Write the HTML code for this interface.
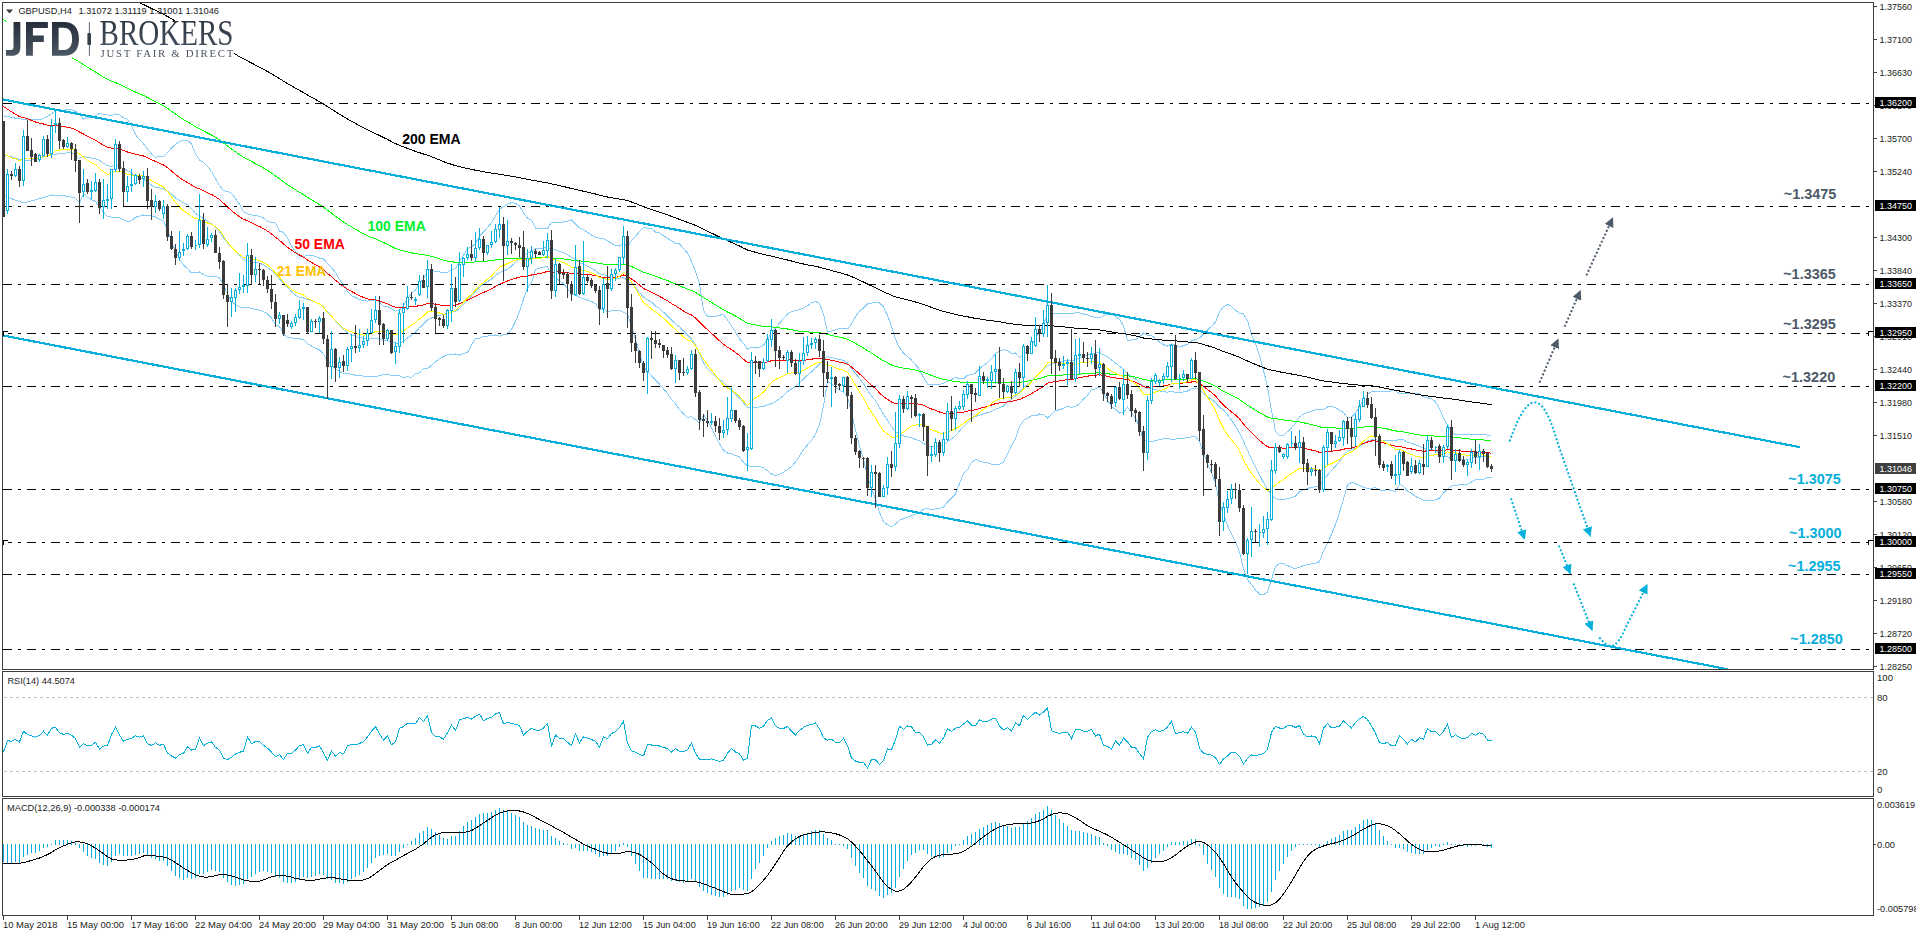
<!DOCTYPE html><html><head><meta charset="utf-8"><title>GBPUSD H4</title><style>html,body{margin:0;padding:0;background:#fff;overflow:hidden}body{width:1916px;height:936px;position:relative;font-family:"Liberation Sans",sans-serif}</style></head><body><svg width="1916" height="936" viewBox="0 0 1916 936" style="position:absolute;left:0;top:0">
<defs><clipPath id="cm"><rect x="3" y="3" width="1870" height="666"/></clipPath><clipPath id="cr"><rect x="3" y="672" width="1870" height="124"/></clipPath><clipPath id="cd"><rect x="3" y="799" width="1870" height="116"/></clipPath><linearGradient id="lg" x1="0" y1="0" x2="0" y2="1"><stop offset="0" stop-color="#262e3a"/><stop offset="1" stop-color="#4b5764"/></linearGradient><marker id="mc" viewBox="0 0 10 10" refX="10" refY="5" markerUnits="userSpaceOnUse" markerWidth="9.6" markerHeight="9.6" orient="auto"><path d="M0,0 L10,5 L0,10 z" fill="#06b0dc"/></marker><marker id="mg" viewBox="0 0 10 10" refX="10" refY="5" markerUnits="userSpaceOnUse" markerWidth="9.6" markerHeight="9.6" orient="auto"><path d="M0,0 L10,5 L0,10 z" fill="#4d5a69"/></marker><filter id="idf" x="0" y="0" width="300" height="80" filterUnits="userSpaceOnUse"><feOffset dx="0" dy="0"/></filter></defs>
<rect width="1916" height="936" fill="#fff"/>
<g clip-path="url(#cm)">
<polyline points="3.5,115.8 7.5,116.6 11.5,117.4 15.5,118.2 19.5,118.9 23.5,119.2 27.5,119.5 31.5,119.7 35.5,120.0 39.5,119.8 43.5,118.3 47.5,116.6 51.5,113.6 55.5,110.9 59.5,110.7 63.5,110.5 67.5,109.3 71.5,109.7 75.5,111.4 79.5,113.8 83.5,119.2 87.5,117.7 91.5,116.6 95.5,116.1 99.5,113.2 103.5,114.6 107.5,114.9 111.5,115.6 115.5,113.9 119.5,114.7 123.5,117.7 127.5,119.1 131.5,125.9 135.5,134.5 139.5,139.6 143.5,143.7 147.5,149.3 151.5,154.0 155.5,157.2 159.5,156.6 163.5,156.8 167.5,152.7 171.5,148.0 175.5,144.3 179.5,141.6 183.5,140.3 187.5,140.4 191.5,143.8 195.5,154.0 199.5,160.0 203.5,162.4 207.5,166.4 211.5,171.4 215.5,178.7 219.5,185.6 223.5,190.9 227.5,191.2 231.5,193.2 235.5,198.7 239.5,204.3 243.5,211.9 247.5,213.8 251.5,215.0 255.5,215.4 259.5,216.4 263.5,217.9 267.5,221.2 271.5,222.6 275.5,223.1 279.5,231.1 283.5,232.3 287.5,237.8 291.5,245.9 295.5,251.5 299.5,256.0 303.5,256.4 307.5,255.3 311.5,255.5 315.5,256.4 319.5,258.0 323.5,258.9 327.5,263.5 331.5,267.7 335.5,272.3 339.5,279.5 343.5,285.4 347.5,291.5 351.5,295.7 355.5,297.4 359.5,299.9 363.5,300.2 367.5,301.1 371.5,300.7 375.5,299.5 379.5,302.1 383.5,306.6 387.5,306.4 391.5,308.7 395.5,311.2 399.5,310.1 403.5,305.3 407.5,299.2 411.5,293.4 415.5,290.0 419.5,282.8 423.5,279.4 427.5,271.2 431.5,270.7 435.5,271.3 439.5,271.9 443.5,272.5 447.5,272.3 451.5,269.5 455.5,268.8 459.5,261.8 463.5,255.3 467.5,248.6 471.5,246.7 475.5,243.4 479.5,236.1 483.5,232.2 487.5,227.5 491.5,222.6 495.5,216.1 499.5,209.4 503.5,206.8 507.5,204.2 511.5,202.6 515.5,203.4 519.5,205.9 523.5,212.7 527.5,218.2 531.5,220.3 535.5,228.3 539.5,228.9 543.5,229.0 547.5,228.4 551.5,222.4 555.5,222.4 559.5,222.6 563.5,221.9 567.5,221.1 571.5,220.0 575.5,223.8 579.5,227.9 583.5,229.6 587.5,232.4 591.5,235.0 595.5,237.5 599.5,238.1 603.5,238.8 607.5,240.5 611.5,243.5 615.5,245.7 619.5,246.1 623.5,242.5 627.5,247.7 631.5,240.5 635.5,236.4 639.5,231.6 643.5,227.6 647.5,228.3 651.5,228.4 655.5,232.0 659.5,232.8 663.5,235.7 667.5,238.5 671.5,240.6 675.5,243.3 679.5,243.9 683.5,248.4 687.5,253.1 691.5,261.5 695.5,271.1 699.5,283.9 703.5,310.6 707.5,316.3 711.5,316.6 715.5,316.4 719.5,315.2 723.5,314.4 727.5,319.9 731.5,326.0 735.5,332.1 739.5,338.8 743.5,343.5 747.5,349.3 751.5,347.5 755.5,348.0 759.5,347.3 763.5,345.4 767.5,339.1 771.5,333.5 775.5,327.9 779.5,322.9 783.5,318.7 787.5,314.0 791.5,311.5 795.5,310.7 799.5,309.6 803.5,308.1 807.5,305.6 811.5,302.9 815.5,301.5 819.5,303.3 823.5,314.1 827.5,332.0 831.5,331.3 835.5,329.8 839.5,328.6 843.5,328.3 847.5,329.0 851.5,323.9 855.5,316.6 859.5,311.1 863.5,308.2 867.5,303.8 871.5,303.1 875.5,302.7 879.5,302.8 883.5,307.0 887.5,315.6 891.5,326.0 895.5,339.3 899.5,347.8 903.5,353.3 907.5,356.3 911.5,360.1 915.5,364.8 919.5,369.3 923.5,377.5 927.5,384.0 931.5,384.8 935.5,384.3 939.5,384.2 943.5,383.5 947.5,381.2 951.5,379.6 955.5,377.2 959.5,378.8 963.5,379.0 967.5,375.1 971.5,374.9 975.5,373.0 979.5,369.0 983.5,365.3 987.5,362.8 991.5,358.7 995.5,353.5 999.5,351.1 1003.5,349.7 1007.5,350.7 1011.5,353.3 1015.5,353.0 1019.5,357.6 1023.5,354.8 1027.5,350.8 1031.5,345.9 1035.5,337.7 1039.5,332.4 1043.5,324.8 1047.5,313.5 1051.5,313.3 1055.5,313.9 1059.5,313.8 1063.5,313.7 1067.5,313.7 1071.5,313.5 1075.5,313.0 1079.5,312.9 1083.5,314.0 1087.5,314.9 1091.5,316.9 1095.5,317.1 1099.5,317.9 1103.5,315.9 1107.5,314.0 1111.5,313.1 1115.5,316.7 1119.5,319.3 1123.5,326.0 1127.5,340.4 1131.5,340.0 1135.5,339.7 1139.5,337.1 1143.5,332.8 1147.5,335.5 1151.5,335.7 1155.5,338.4 1159.5,342.0 1163.5,344.7 1167.5,346.0 1171.5,344.0 1175.5,345.3 1179.5,347.2 1183.5,345.6 1187.5,344.4 1191.5,340.9 1195.5,339.7 1199.5,337.9 1203.5,334.1 1207.5,330.0 1211.5,326.4 1215.5,322.0 1219.5,311.7 1223.5,306.6 1227.5,304.5 1231.5,306.4 1235.5,310.2 1239.5,313.3 1243.5,313.9 1247.5,320.5 1251.5,334.5 1255.5,343.8 1259.5,355.5 1263.5,370.3 1267.5,386.9 1271.5,410.4 1275.5,431.1 1279.5,435.8 1283.5,435.5 1287.5,431.8 1291.5,427.8 1295.5,423.5 1299.5,416.9 1303.5,414.1 1307.5,412.5 1311.5,411.1 1315.5,409.9 1319.5,409.6 1323.5,409.5 1327.5,407.0 1331.5,406.6 1335.5,407.7 1339.5,410.3 1343.5,412.5 1347.5,417.9 1351.5,416.9 1355.5,413.1 1359.5,406.5 1363.5,399.0 1367.5,394.1 1371.5,391.9 1375.5,391.4 1379.5,391.3 1383.5,391.1 1387.5,391.5 1391.5,391.0 1395.5,390.7 1399.5,393.8 1403.5,393.5 1407.5,393.1 1411.5,393.1 1415.5,393.1 1419.5,393.8 1423.5,396.6 1427.5,397.8 1431.5,398.6 1435.5,401.8 1439.5,408.6 1443.5,418.4 1447.5,424.7 1451.5,432.0 1455.5,434.6 1459.5,434.6 1463.5,434.6 1467.5,434.5 1471.5,434.4 1475.5,434.8 1479.5,434.6 1483.5,434.3 1487.5,435.2 1491.5,435.0" fill="none" stroke="#87cefa" stroke-width="1" shape-rendering="crispEdges" />
<polyline points="3.5,195.7 7.5,197.2 11.5,198.6 15.5,200.1 19.5,201.6 23.5,202.8 27.5,201.8 31.5,200.8 35.5,199.8 39.5,198.6 43.5,197.4 47.5,196.2 51.5,195.0 55.5,195.2 59.5,195.4 63.5,195.6 67.5,196.4 71.5,197.1 75.5,198.2 79.5,202.6 83.5,193.9 87.5,197.2 91.5,199.7 95.5,201.4 99.5,207.0 103.5,212.0 107.5,216.6 111.5,217.1 115.5,217.1 119.5,217.6 123.5,219.9 127.5,221.7 131.5,220.7 135.5,217.3 139.5,216.2 143.5,215.0 147.5,215.1 151.5,216.2 155.5,217.0 159.5,219.2 163.5,221.3 167.5,229.8 171.5,240.5 175.5,251.8 179.5,258.9 183.5,265.1 187.5,268.6 191.5,273.0 195.5,272.8 199.5,271.9 203.5,274.8 207.5,276.1 211.5,276.2 215.5,276.6 219.5,278.0 223.5,284.6 227.5,294.3 231.5,301.4 235.5,304.7 239.5,307.0 243.5,307.3 247.5,307.2 251.5,308.6 255.5,309.3 259.5,310.1 263.5,311.8 267.5,313.8 271.5,318.0 275.5,324.9 279.5,326.4 283.5,334.2 287.5,337.2 291.5,337.9 295.5,338.8 299.5,338.8 303.5,339.6 307.5,343.8 311.5,346.0 315.5,348.2 319.5,349.8 323.5,354.3 327.5,360.8 331.5,364.1 335.5,369.4 339.5,371.3 343.5,374.0 347.5,373.8 351.5,374.1 355.5,375.3 359.5,375.7 363.5,376.1 367.5,376.1 371.5,376.2 375.5,376.7 379.5,375.7 383.5,374.4 387.5,374.4 391.5,375.3 395.5,375.3 399.5,375.9 403.5,377.6 407.5,376.7 411.5,377.4 415.5,373.8 419.5,372.9 423.5,368.5 427.5,368.7 431.5,365.3 435.5,361.8 439.5,358.7 443.5,356.5 447.5,354.6 451.5,354.2 455.5,354.0 459.5,355.0 463.5,353.4 467.5,352.5 471.5,344.9 475.5,338.3 479.5,338.3 483.5,336.5 487.5,336.1 491.5,335.4 495.5,335.0 499.5,336.1 503.5,334.5 507.5,334.4 511.5,329.5 515.5,321.4 519.5,311.7 523.5,298.9 527.5,288.2 531.5,282.4 535.5,269.7 539.5,268.1 543.5,267.2 547.5,266.5 551.5,275.8 555.5,277.5 559.5,280.7 563.5,283.6 567.5,288.3 571.5,294.7 575.5,294.5 579.5,297.5 583.5,298.8 587.5,300.0 591.5,301.5 595.5,303.6 599.5,309.2 603.5,310.2 607.5,311.6 611.5,310.9 615.5,310.3 619.5,310.1 623.5,312.3 627.5,313.9 631.5,326.4 635.5,339.1 639.5,353.0 643.5,366.7 647.5,371.3 651.5,375.8 655.5,380.0 659.5,384.2 663.5,388.8 667.5,393.3 671.5,399.6 675.5,403.8 679.5,409.5 683.5,414.0 687.5,417.3 691.5,416.8 695.5,419.6 699.5,423.1 703.5,414.8 707.5,420.6 711.5,428.0 715.5,435.8 719.5,443.8 723.5,450.4 727.5,453.0 731.5,453.8 735.5,455.5 739.5,457.0 743.5,462.3 747.5,465.8 751.5,466.6 755.5,466.4 759.5,466.6 763.5,467.5 767.5,470.8 771.5,474.0 775.5,475.4 779.5,474.1 783.5,472.1 787.5,469.6 791.5,466.4 795.5,462.0 799.5,455.9 803.5,449.6 807.5,444.8 811.5,440.8 815.5,434.1 819.5,424.7 823.5,406.1 827.5,381.4 831.5,383.7 835.5,387.4 839.5,390.3 843.5,392.1 847.5,397.1 851.5,413.0 855.5,430.4 859.5,446.0 863.5,458.9 867.5,476.9 871.5,488.5 875.5,498.8 879.5,512.3 883.5,521.7 887.5,524.9 891.5,526.9 895.5,524.1 899.5,520.4 903.5,518.5 907.5,517.3 911.5,515.6 915.5,514.1 919.5,512.4 923.5,509.2 927.5,508.7 931.5,509.4 935.5,508.9 939.5,508.4 943.5,507.2 947.5,501.8 951.5,498.1 955.5,493.9 959.5,483.3 963.5,473.7 967.5,469.6 971.5,462.4 975.5,459.5 979.5,461.2 983.5,462.1 987.5,462.9 991.5,464.3 995.5,464.9 999.5,464.4 1003.5,462.2 1007.5,454.3 1011.5,445.5 1015.5,438.9 1019.5,426.8 1023.5,420.3 1027.5,418.5 1031.5,415.7 1035.5,416.0 1039.5,414.0 1043.5,414.5 1047.5,417.9 1051.5,414.5 1055.5,410.7 1059.5,409.8 1063.5,408.2 1067.5,406.5 1071.5,407.4 1075.5,406.5 1079.5,403.6 1083.5,399.1 1087.5,395.4 1091.5,389.5 1095.5,389.0 1099.5,386.8 1103.5,393.6 1107.5,399.8 1111.5,406.9 1115.5,409.1 1119.5,413.1 1123.5,412.4 1127.5,407.1 1131.5,412.8 1135.5,418.0 1139.5,427.2 1143.5,440.4 1147.5,441.5 1151.5,441.5 1155.5,440.7 1159.5,439.7 1163.5,438.8 1167.5,438.2 1171.5,439.4 1175.5,439.1 1179.5,438.6 1183.5,438.2 1187.5,437.6 1191.5,436.9 1195.5,436.6 1199.5,441.6 1203.5,452.5 1207.5,463.5 1211.5,472.5 1215.5,483.5 1219.5,502.8 1223.5,513.4 1227.5,525.3 1231.5,534.2 1235.5,542.0 1239.5,551.8 1243.5,568.9 1247.5,579.7 1251.5,584.4 1255.5,590.3 1259.5,594.0 1263.5,594.6 1267.5,592.0 1271.5,579.5 1275.5,566.4 1279.5,563.7 1283.5,563.9 1287.5,565.6 1291.5,567.4 1295.5,568.7 1299.5,567.2 1303.5,565.6 1307.5,564.5 1311.5,563.9 1315.5,563.2 1319.5,561.6 1323.5,551.1 1327.5,542.8 1331.5,534.4 1335.5,524.2 1339.5,512.2 1343.5,499.2 1347.5,484.8 1351.5,482.4 1355.5,483.5 1359.5,485.4 1363.5,487.4 1367.5,488.5 1371.5,488.2 1375.5,487.5 1379.5,490.0 1383.5,490.6 1387.5,489.4 1391.5,490.6 1395.5,491.2 1399.5,484.4 1403.5,486.4 1407.5,491.1 1411.5,493.3 1415.5,496.5 1419.5,498.4 1423.5,500.2 1427.5,500.1 1431.5,500.4 1435.5,499.9 1439.5,498.2 1443.5,493.2 1447.5,489.2 1451.5,486.1 1455.5,485.2 1459.5,484.9 1463.5,484.6 1467.5,484.3 1471.5,482.0 1475.5,479.8 1479.5,479.8 1483.5,479.1 1487.5,477.3 1491.5,477.8" fill="none" stroke="#87cefa" stroke-width="1" shape-rendering="crispEdges" />
<polyline points="3.5,154.6 7.5,155.8 11.5,157.0 15.5,158.2 19.5,159.3 23.5,159.8 27.5,160.3 31.5,160.1 35.5,159.1 39.5,158.0 43.5,156.9 47.5,155.8 51.5,154.8 55.5,154.2 59.5,153.6 63.5,153.3 67.5,152.8 71.5,153.0 75.5,154.4 79.5,158.2 83.5,156.5 87.5,157.4 91.5,158.1 95.5,158.8 99.5,160.1 103.5,163.3 107.5,165.7 111.5,166.4 115.5,165.5 119.5,166.2 123.5,168.8 127.5,170.4 131.5,173.3 135.5,175.9 139.5,177.9 143.5,179.3 147.5,182.2 151.5,185.1 155.5,187.1 159.5,187.9 163.5,189.0 167.5,191.3 171.5,194.2 175.5,198.1 179.5,200.3 183.5,202.7 187.5,204.5 191.5,208.4 195.5,213.4 199.5,216.0 203.5,218.6 207.5,221.2 211.5,223.8 215.5,227.7 219.5,231.8 223.5,237.7 227.5,242.8 231.5,247.3 235.5,251.7 239.5,255.6 243.5,259.6 247.5,260.5 251.5,261.8 255.5,262.3 259.5,263.2 263.5,264.8 267.5,267.5 271.5,270.3 275.5,274.0 279.5,278.8 283.5,283.3 287.5,287.5 291.5,291.9 295.5,295.1 299.5,297.4 303.5,298.0 307.5,299.5 311.5,300.8 315.5,302.3 319.5,303.9 323.5,306.6 327.5,312.2 331.5,315.9 335.5,320.9 339.5,325.4 343.5,329.7 347.5,332.7 351.5,334.9 355.5,336.3 359.5,337.8 363.5,338.1 367.5,338.6 371.5,338.5 375.5,338.1 379.5,338.9 383.5,340.5 387.5,340.4 391.5,342.0 395.5,343.2 399.5,343.0 403.5,341.4 407.5,337.9 411.5,335.4 415.5,331.9 419.5,327.8 423.5,323.9 427.5,319.9 431.5,318.0 435.5,316.6 439.5,315.3 443.5,314.5 447.5,313.4 451.5,311.8 455.5,311.4 459.5,308.4 463.5,304.4 467.5,300.5 471.5,295.8 475.5,290.9 479.5,287.2 483.5,284.4 487.5,281.8 491.5,279.0 495.5,275.5 499.5,272.7 503.5,270.7 507.5,269.3 511.5,266.1 515.5,262.4 519.5,258.8 523.5,255.8 527.5,253.2 531.5,251.3 535.5,249.0 539.5,248.5 543.5,248.1 547.5,247.4 551.5,249.1 555.5,249.9 559.5,251.6 563.5,252.8 567.5,254.7 571.5,257.3 575.5,259.2 579.5,262.7 583.5,264.2 587.5,266.2 591.5,268.3 595.5,270.6 599.5,273.7 603.5,274.5 607.5,276.1 611.5,277.2 615.5,278.0 619.5,278.1 623.5,277.4 627.5,280.8 631.5,283.4 635.5,287.8 639.5,292.3 643.5,297.2 647.5,299.8 651.5,302.1 655.5,306.0 659.5,308.5 663.5,312.2 667.5,315.9 671.5,320.1 675.5,323.6 679.5,326.7 683.5,331.2 687.5,335.2 691.5,339.2 695.5,345.3 699.5,353.5 703.5,362.7 707.5,368.4 711.5,372.3 715.5,376.1 719.5,379.5 723.5,382.4 727.5,386.5 731.5,389.9 735.5,393.8 739.5,397.9 743.5,402.9 747.5,407.5 751.5,407.1 755.5,407.2 759.5,407.0 763.5,406.4 767.5,404.9 771.5,403.7 775.5,401.6 779.5,398.5 783.5,395.4 787.5,391.8 791.5,389.0 795.5,386.3 799.5,382.7 803.5,378.9 807.5,375.2 811.5,371.9 815.5,367.8 819.5,364.0 823.5,360.1 827.5,356.7 831.5,357.5 835.5,358.6 839.5,359.5 843.5,360.2 847.5,363.0 851.5,368.4 855.5,373.5 859.5,378.5 863.5,383.6 867.5,390.4 871.5,395.8 875.5,400.8 879.5,407.6 883.5,414.3 887.5,420.3 891.5,426.5 895.5,431.7 899.5,434.1 903.5,435.9 907.5,436.8 911.5,437.9 915.5,439.4 919.5,440.9 923.5,443.3 927.5,446.4 931.5,447.1 935.5,446.6 939.5,446.3 943.5,445.4 947.5,441.5 951.5,438.8 955.5,435.6 959.5,431.1 963.5,426.4 967.5,422.4 971.5,418.7 975.5,416.3 979.5,415.1 983.5,413.7 987.5,412.8 991.5,411.5 995.5,409.2 999.5,407.7 1003.5,406.0 1007.5,402.5 1011.5,399.4 1015.5,395.9 1019.5,392.2 1023.5,387.5 1027.5,384.7 1031.5,380.8 1035.5,376.8 1039.5,373.2 1043.5,369.6 1047.5,365.7 1051.5,363.9 1055.5,362.3 1059.5,361.8 1063.5,360.9 1067.5,360.1 1071.5,360.4 1075.5,359.7 1079.5,358.2 1083.5,356.5 1087.5,355.2 1091.5,353.2 1095.5,353.1 1099.5,352.4 1103.5,354.8 1107.5,356.9 1111.5,360.0 1115.5,362.9 1119.5,366.2 1123.5,369.2 1127.5,373.7 1131.5,376.4 1135.5,378.9 1139.5,382.2 1143.5,386.6 1147.5,388.5 1151.5,388.6 1155.5,389.6 1159.5,390.9 1163.5,391.8 1167.5,392.1 1171.5,391.7 1175.5,392.2 1179.5,392.9 1183.5,391.9 1187.5,391.0 1191.5,388.9 1195.5,388.1 1199.5,389.7 1203.5,393.3 1207.5,396.7 1211.5,399.4 1215.5,402.7 1219.5,407.2 1223.5,410.0 1227.5,414.9 1231.5,420.3 1235.5,426.1 1239.5,432.5 1243.5,441.4 1247.5,450.1 1251.5,459.4 1255.5,467.0 1259.5,474.7 1263.5,482.4 1267.5,489.5 1271.5,495.0 1275.5,498.7 1279.5,499.8 1283.5,499.7 1287.5,498.7 1291.5,497.6 1295.5,496.1 1299.5,492.0 1303.5,489.9 1307.5,488.5 1311.5,487.5 1315.5,486.6 1319.5,485.6 1323.5,480.3 1327.5,474.9 1331.5,470.5 1335.5,466.0 1339.5,461.2 1343.5,455.9 1347.5,451.3 1351.5,449.7 1355.5,448.3 1359.5,446.0 1363.5,443.2 1367.5,441.3 1371.5,440.0 1375.5,439.5 1379.5,440.6 1383.5,440.8 1387.5,440.5 1391.5,440.8 1395.5,441.0 1399.5,439.1 1403.5,439.9 1407.5,442.1 1411.5,443.2 1415.5,444.8 1419.5,446.1 1423.5,448.4 1427.5,449.0 1431.5,449.5 1435.5,450.9 1439.5,453.4 1443.5,455.8 1447.5,456.9 1451.5,459.1 1455.5,459.9 1459.5,459.7 1463.5,459.6 1467.5,459.4 1471.5,458.2 1475.5,457.3 1479.5,457.2 1483.5,456.7 1487.5,456.3 1491.5,456.4" fill="none" stroke="#87cefa" stroke-width="1" shape-rendering="crispEdges" />
<polyline points="3.5,-64.5 7.5,-62.1 11.5,-59.7 15.5,-57.5 19.5,-55.1 23.5,-53.2 27.5,-51.1 31.5,-49.1 35.5,-47.0 39.5,-44.9 43.5,-43.1 47.5,-41.1 51.5,-39.5 55.5,-37.9 59.5,-36.1 63.5,-34.2 67.5,-32.5 71.5,-30.7 75.5,-28.8 79.5,-26.5 83.5,-24.4 87.5,-22.3 91.5,-20.2 95.5,-18.2 99.5,-15.9 103.5,-13.7 107.5,-11.6 111.5,-9.8 115.5,-8.3 119.5,-6.5 123.5,-4.5 127.5,-2.6 131.5,-0.8 135.5,1.0 139.5,2.8 143.5,4.5 147.5,6.5 151.5,8.5 155.5,10.4 159.5,12.4 163.5,14.3 167.5,16.5 171.5,18.8 175.5,21.2 179.5,23.5 183.5,25.8 187.5,27.9 191.5,30.0 195.5,32.2 199.5,34.1 203.5,36.2 207.5,38.2 211.5,40.1 215.5,42.3 219.5,44.5 223.5,47.0 227.5,49.5 231.5,52.0 235.5,54.3 239.5,56.7 243.5,58.9 247.5,60.9 251.5,63.0 255.5,65.1 259.5,67.1 263.5,69.3 267.5,71.5 271.5,73.8 275.5,76.2 279.5,78.6 283.5,81.1 287.5,83.6 291.5,85.9 295.5,88.2 299.5,90.4 303.5,92.6 307.5,95.0 311.5,97.2 315.5,99.5 319.5,101.7 323.5,104.0 327.5,106.7 331.5,109.1 335.5,111.7 339.5,114.2 343.5,116.7 347.5,119.0 351.5,121.2 355.5,123.5 359.5,125.7 363.5,127.9 367.5,129.9 371.5,131.8 375.5,133.6 379.5,135.5 383.5,137.5 387.5,139.4 391.5,141.6 395.5,143.6 399.5,145.3 403.5,146.9 407.5,148.4 411.5,149.9 415.5,151.4 419.5,152.7 423.5,154.0 427.5,155.2 431.5,156.7 435.5,158.3 439.5,159.9 443.5,161.6 447.5,163.1 451.5,164.3 455.5,165.7 459.5,166.7 463.5,167.6 467.5,168.5 471.5,169.4 475.5,170.2 479.5,170.9 483.5,171.7 487.5,172.4 491.5,173.1 495.5,173.7 499.5,174.2 503.5,174.9 507.5,175.6 511.5,176.2 515.5,176.9 519.5,177.7 523.5,178.5 527.5,179.3 531.5,180.1 535.5,180.8 539.5,181.5 543.5,182.2 547.5,182.8 551.5,183.9 555.5,184.7 559.5,185.6 563.5,186.5 567.5,187.5 571.5,188.5 575.5,189.3 579.5,190.4 583.5,191.2 587.5,192.1 591.5,193.1 595.5,194.0 599.5,195.2 603.5,196.1 607.5,197.0 611.5,197.8 615.5,198.5 619.5,199.1 623.5,199.5 627.5,200.6 631.5,202.0 635.5,203.5 639.5,205.1 643.5,206.7 647.5,208.1 651.5,209.4 655.5,210.7 659.5,212.1 663.5,213.4 667.5,214.9 671.5,216.4 675.5,217.8 679.5,219.4 683.5,220.9 687.5,222.4 691.5,223.7 695.5,225.4 699.5,227.3 703.5,229.3 707.5,231.2 711.5,233.1 715.5,235.0 719.5,237.0 723.5,238.9 727.5,240.7 731.5,242.4 735.5,244.2 739.5,246.0 743.5,248.1 747.5,250.0 751.5,251.1 755.5,252.3 759.5,253.4 763.5,254.5 767.5,255.4 771.5,256.1 775.5,257.1 779.5,258.1 783.5,259.1 787.5,260.0 791.5,261.0 795.5,262.2 799.5,263.1 803.5,264.0 807.5,264.9 811.5,265.6 815.5,266.4 819.5,267.2 823.5,268.3 827.5,269.4 831.5,270.5 835.5,271.6 839.5,272.7 843.5,273.8 847.5,275.0 851.5,276.6 855.5,278.4 859.5,280.2 863.5,282.0 867.5,284.0 871.5,285.9 875.5,287.8 879.5,289.8 883.5,291.8 887.5,293.5 891.5,295.3 895.5,296.8 899.5,297.8 903.5,298.9 907.5,299.9 911.5,300.9 915.5,302.0 919.5,303.1 923.5,304.4 927.5,305.9 931.5,307.4 935.5,308.7 939.5,310.1 943.5,311.4 947.5,312.4 951.5,313.5 955.5,314.4 959.5,315.4 963.5,316.1 967.5,316.8 971.5,317.6 975.5,318.4 979.5,319.0 983.5,319.6 987.5,320.2 991.5,320.7 995.5,321.2 999.5,321.8 1003.5,322.5 1007.5,323.2 1011.5,323.9 1015.5,324.3 1019.5,324.9 1023.5,325.1 1027.5,325.4 1031.5,325.5 1035.5,325.6 1039.5,325.7 1043.5,325.6 1047.5,325.4 1051.5,325.8 1055.5,326.2 1059.5,326.6 1063.5,326.9 1067.5,327.3 1071.5,327.8 1075.5,328.1 1079.5,328.4 1083.5,328.7 1087.5,329.0 1091.5,329.2 1095.5,329.6 1099.5,330.0 1103.5,330.6 1107.5,331.3 1111.5,332.0 1115.5,332.5 1119.5,333.2 1123.5,333.7 1127.5,334.3 1131.5,335.1 1135.5,335.9 1139.5,336.8 1143.5,338.0 1147.5,338.6 1151.5,339.0 1155.5,339.4 1159.5,339.8 1163.5,340.2 1167.5,340.4 1171.5,340.5 1175.5,340.9 1179.5,341.3 1183.5,341.6 1187.5,342.0 1191.5,342.2 1195.5,342.5 1199.5,343.3 1203.5,344.5 1207.5,345.7 1211.5,346.9 1215.5,348.2 1219.5,349.9 1223.5,351.5 1227.5,352.9 1231.5,354.3 1235.5,355.7 1239.5,357.2 1243.5,359.2 1247.5,361.0 1251.5,362.7 1255.5,364.4 1259.5,366.0 1263.5,367.6 1267.5,369.2 1271.5,370.2 1275.5,370.9 1279.5,371.8 1283.5,372.6 1287.5,373.3 1291.5,374.0 1295.5,374.7 1299.5,375.4 1303.5,376.3 1307.5,377.2 1311.5,378.2 1315.5,379.1 1319.5,380.2 1323.5,380.9 1327.5,381.4 1331.5,382.0 1335.5,382.6 1339.5,383.1 1343.5,383.5 1347.5,384.0 1351.5,384.5 1355.5,384.9 1359.5,385.1 1363.5,385.2 1367.5,385.4 1371.5,385.8 1375.5,386.3 1379.5,387.1 1383.5,387.9 1387.5,388.6 1391.5,389.5 1395.5,390.4 1399.5,391.0 1403.5,391.7 1407.5,392.5 1411.5,393.3 1415.5,394.1 1419.5,394.8 1423.5,395.5 1427.5,395.9 1431.5,396.5 1435.5,397.0 1439.5,397.6 1443.5,398.1 1447.5,398.4 1451.5,399.0 1455.5,399.5 1459.5,400.1 1463.5,400.8 1467.5,401.4 1471.5,401.9 1475.5,402.5 1479.5,402.9 1483.5,403.5 1487.5,404.1 1491.5,404.7" fill="none" stroke="#000" stroke-width="1" shape-rendering="crispEdges" />
<polyline points="3.5,19.5 7.5,22.6 11.5,25.6 15.5,28.5 19.5,31.5 23.5,33.6 27.5,35.9 31.5,38.3 35.5,40.8 39.5,43.1 43.5,45.0 47.5,47.1 51.5,48.7 55.5,50.2 59.5,52.0 63.5,53.9 67.5,55.7 71.5,57.5 75.5,59.6 79.5,62.2 83.5,64.6 87.5,67.2 91.5,69.6 95.5,71.9 99.5,74.6 103.5,77.1 107.5,79.5 111.5,81.3 115.5,82.5 119.5,84.3 123.5,86.4 127.5,88.4 131.5,90.3 135.5,92.0 139.5,93.7 143.5,95.4 147.5,97.5 151.5,99.6 155.5,101.7 159.5,103.8 163.5,105.8 167.5,108.4 171.5,111.2 175.5,114.1 179.5,116.9 183.5,119.5 187.5,121.8 191.5,124.3 195.5,126.7 199.5,128.6 203.5,130.9 207.5,133.0 211.5,135.0 215.5,137.4 219.5,139.9 223.5,142.9 227.5,146.1 231.5,149.1 235.5,151.9 239.5,154.6 243.5,157.2 247.5,159.1 251.5,161.4 255.5,163.6 259.5,165.7 263.5,168.0 267.5,170.4 271.5,173.0 275.5,175.9 279.5,178.7 283.5,181.8 287.5,184.6 291.5,187.3 295.5,189.9 299.5,192.3 303.5,194.6 307.5,197.3 311.5,199.8 315.5,202.2 319.5,204.5 323.5,207.2 327.5,210.3 331.5,213.1 335.5,216.2 339.5,219.1 343.5,222.0 347.5,224.5 351.5,226.9 355.5,229.3 359.5,231.6 363.5,233.8 367.5,235.8 371.5,237.5 375.5,238.9 379.5,240.6 383.5,242.6 387.5,244.3 391.5,246.5 395.5,248.5 399.5,249.8 403.5,250.9 407.5,251.9 411.5,252.8 415.5,253.7 419.5,254.2 423.5,254.9 427.5,255.2 431.5,256.3 435.5,257.5 439.5,258.7 443.5,260.1 447.5,261.1 451.5,261.6 455.5,262.4 459.5,262.5 463.5,262.4 467.5,262.3 471.5,262.2 475.5,261.9 479.5,261.5 483.5,261.3 487.5,261.0 491.5,260.6 495.5,260.0 499.5,259.3 503.5,259.1 507.5,258.7 511.5,258.4 515.5,258.2 519.5,258.0 523.5,258.2 527.5,258.2 531.5,258.1 535.5,258.0 539.5,257.9 543.5,257.8 547.5,257.5 551.5,258.1 555.5,258.3 559.5,258.6 563.5,258.9 567.5,259.4 571.5,260.1 575.5,260.3 579.5,260.9 583.5,261.3 587.5,261.7 591.5,262.2 595.5,262.7 599.5,263.7 603.5,264.1 607.5,264.6 611.5,264.8 615.5,264.9 619.5,264.8 623.5,264.2 627.5,265.1 631.5,266.6 635.5,268.3 639.5,270.2 643.5,272.3 647.5,273.6 651.5,274.9 655.5,276.3 659.5,277.6 663.5,279.1 667.5,280.6 671.5,282.4 675.5,283.9 679.5,285.7 683.5,287.4 687.5,289.1 691.5,290.4 695.5,292.4 699.5,295.0 703.5,297.5 707.5,299.9 711.5,302.4 715.5,304.8 719.5,307.4 723.5,309.8 727.5,312.0 731.5,313.9 735.5,316.0 739.5,318.3 743.5,320.9 747.5,323.4 751.5,324.1 755.5,324.9 759.5,325.8 763.5,326.5 767.5,326.8 771.5,326.9 775.5,327.3 779.5,328.0 783.5,328.6 787.5,329.0 791.5,329.7 795.5,330.6 799.5,331.2 803.5,331.7 807.5,331.9 811.5,332.2 815.5,332.3 819.5,332.7 823.5,333.5 827.5,334.4 831.5,335.3 835.5,336.3 839.5,337.2 843.5,338.0 847.5,339.2 851.5,341.2 855.5,343.4 859.5,345.7 863.5,347.9 867.5,350.7 871.5,353.1 875.5,355.5 879.5,358.3 883.5,360.9 887.5,362.9 891.5,365.0 895.5,366.6 899.5,367.2 903.5,368.1 907.5,368.6 911.5,369.3 915.5,370.2 919.5,371.1 923.5,372.2 927.5,373.9 931.5,375.4 935.5,376.8 939.5,378.3 943.5,379.5 947.5,380.1 951.5,380.9 955.5,381.5 959.5,382.0 963.5,382.2 967.5,382.3 971.5,382.5 975.5,382.8 979.5,382.6 983.5,382.6 987.5,382.6 991.5,382.4 995.5,382.1 999.5,382.2 1003.5,382.4 1007.5,382.5 1011.5,382.7 1015.5,382.5 1019.5,382.4 1023.5,381.7 1027.5,381.1 1031.5,380.4 1035.5,379.3 1039.5,378.5 1043.5,377.4 1047.5,375.9 1051.5,375.6 1055.5,375.4 1059.5,375.2 1063.5,375.0 1067.5,374.7 1071.5,374.8 1075.5,374.4 1079.5,374.1 1083.5,373.8 1087.5,373.5 1091.5,373.1 1095.5,373.0 1099.5,372.9 1103.5,373.3 1107.5,373.7 1111.5,374.3 1115.5,374.6 1119.5,375.1 1123.5,375.3 1127.5,375.7 1131.5,376.4 1135.5,377.1 1139.5,378.2 1143.5,379.7 1147.5,380.1 1151.5,380.1 1155.5,380.1 1159.5,380.1 1163.5,380.0 1167.5,379.7 1171.5,379.1 1175.5,379.1 1179.5,379.1 1183.5,379.0 1187.5,379.0 1191.5,378.6 1195.5,378.5 1199.5,379.6 1203.5,381.1 1207.5,382.7 1211.5,384.3 1215.5,386.2 1219.5,388.9 1223.5,391.3 1227.5,393.4 1231.5,395.3 1235.5,397.2 1239.5,399.4 1243.5,402.5 1247.5,405.2 1251.5,407.7 1255.5,410.2 1259.5,412.6 1263.5,414.9 1267.5,417.0 1271.5,418.1 1275.5,418.7 1279.5,419.3 1283.5,420.0 1287.5,420.5 1291.5,421.0 1295.5,421.5 1299.5,421.9 1303.5,422.8 1307.5,423.7 1311.5,424.7 1315.5,425.6 1319.5,426.9 1323.5,427.3 1327.5,427.4 1331.5,427.7 1335.5,428.0 1339.5,428.2 1343.5,428.0 1347.5,428.1 1351.5,428.3 1355.5,428.1 1359.5,427.7 1363.5,427.1 1367.5,426.7 1371.5,426.5 1375.5,426.7 1379.5,427.5 1383.5,428.3 1387.5,429.0 1391.5,430.0 1395.5,430.9 1399.5,431.3 1403.5,431.9 1407.5,432.8 1411.5,433.5 1415.5,434.3 1419.5,434.9 1423.5,435.5 1427.5,435.6 1431.5,435.9 1435.5,436.1 1439.5,436.5 1443.5,436.7 1447.5,436.5 1451.5,437.0 1455.5,437.4 1459.5,437.8 1463.5,438.4 1467.5,438.9 1471.5,439.1 1475.5,439.5 1479.5,439.7 1483.5,440.0 1487.5,440.5 1491.5,441.1" fill="none" stroke="#00ff00" stroke-width="1" shape-rendering="crispEdges" />
<polyline points="3.5,106.5 7.5,109.2 11.5,111.8 15.5,114.1 19.5,116.7 23.5,117.5 27.5,118.8 31.5,120.4 35.5,122.0 39.5,123.3 43.5,124.0 47.5,125.2 51.5,125.2 55.5,125.1 59.5,125.8 63.5,126.6 67.5,127.3 71.5,128.2 75.5,129.5 79.5,132.0 83.5,134.0 87.5,136.3 91.5,138.4 95.5,140.2 99.5,142.8 103.5,145.1 107.5,147.3 111.5,148.1 115.5,148.0 119.5,148.8 123.5,150.6 127.5,152.0 131.5,153.2 135.5,154.1 139.5,155.1 143.5,156.0 147.5,157.8 151.5,159.7 155.5,161.4 159.5,163.2 163.5,164.9 167.5,167.8 171.5,171.0 175.5,174.4 179.5,177.5 183.5,180.3 187.5,182.5 191.5,185.0 195.5,187.4 199.5,188.7 203.5,190.9 207.5,192.8 211.5,194.5 215.5,196.8 219.5,199.4 223.5,203.2 227.5,207.0 231.5,210.6 235.5,213.7 239.5,216.6 243.5,219.3 247.5,220.7 251.5,222.9 255.5,224.7 259.5,226.5 263.5,228.7 267.5,231.1 271.5,233.9 275.5,237.2 279.5,240.3 283.5,244.0 287.5,247.2 291.5,250.1 295.5,252.8 299.5,255.0 303.5,257.1 307.5,260.0 311.5,262.4 315.5,264.8 319.5,266.9 323.5,269.8 327.5,273.6 331.5,276.6 335.5,280.2 339.5,283.4 343.5,286.6 347.5,289.1 351.5,291.4 355.5,293.6 359.5,295.6 363.5,297.5 367.5,298.9 371.5,299.7 375.5,300.1 379.5,301.1 383.5,302.6 387.5,303.7 391.5,305.7 395.5,307.3 399.5,307.5 403.5,307.6 407.5,307.2 411.5,306.8 415.5,306.5 419.5,305.5 423.5,304.9 427.5,303.5 431.5,303.7 435.5,304.3 439.5,304.9 443.5,305.8 447.5,306.0 451.5,305.3 455.5,305.2 459.5,303.6 463.5,301.8 467.5,300.0 471.5,298.3 475.5,296.4 479.5,294.1 483.5,292.5 487.5,290.7 491.5,288.8 495.5,286.5 499.5,284.1 503.5,282.6 507.5,281.0 511.5,279.6 515.5,278.3 519.5,277.1 523.5,276.7 527.5,276.0 531.5,275.0 535.5,274.2 539.5,273.5 543.5,272.6 547.5,271.4 551.5,272.2 555.5,271.9 559.5,272.0 563.5,272.1 567.5,272.6 571.5,273.5 575.5,273.2 579.5,274.0 583.5,274.2 587.5,274.5 591.5,274.9 595.5,275.6 599.5,276.9 603.5,277.2 607.5,277.7 611.5,277.6 615.5,277.3 619.5,276.5 623.5,275.0 627.5,276.3 631.5,278.9 635.5,281.8 639.5,285.0 643.5,288.5 647.5,290.4 651.5,292.4 655.5,294.4 659.5,296.4 663.5,298.6 667.5,300.8 671.5,303.5 675.5,305.8 679.5,308.4 683.5,311.0 687.5,313.3 691.5,314.9 695.5,318.0 699.5,322.0 703.5,325.9 707.5,329.7 711.5,333.3 715.5,337.0 719.5,340.8 723.5,344.3 727.5,347.2 731.5,349.7 735.5,352.5 739.5,355.4 743.5,359.2 747.5,362.7 751.5,362.6 755.5,362.6 759.5,362.9 763.5,362.9 767.5,362.0 771.5,360.7 775.5,360.4 779.5,360.3 783.5,360.2 787.5,359.9 791.5,360.1 795.5,360.6 799.5,360.7 803.5,360.4 807.5,359.8 811.5,359.2 815.5,358.4 819.5,358.2 823.5,358.8 827.5,359.6 831.5,360.3 835.5,361.2 839.5,362.2 843.5,362.8 847.5,364.1 851.5,367.1 855.5,370.4 859.5,373.9 863.5,377.2 867.5,381.6 871.5,385.2 875.5,388.6 879.5,392.9 883.5,396.6 887.5,399.3 891.5,402.0 895.5,403.7 899.5,403.5 903.5,403.7 907.5,403.5 911.5,403.3 915.5,403.8 919.5,404.2 923.5,405.1 927.5,407.2 931.5,409.0 935.5,410.3 939.5,412.0 943.5,413.1 947.5,413.0 951.5,413.3 955.5,413.1 959.5,412.8 963.5,412.1 967.5,411.1 971.5,410.4 975.5,409.8 979.5,408.5 983.5,407.4 987.5,406.4 991.5,405.0 995.5,403.7 999.5,402.9 1003.5,402.5 1007.5,401.9 1011.5,401.5 1015.5,400.4 1019.5,399.6 1023.5,397.5 1027.5,395.8 1031.5,393.7 1035.5,391.1 1039.5,388.9 1043.5,386.4 1047.5,383.2 1051.5,382.2 1055.5,381.5 1059.5,380.9 1063.5,380.2 1067.5,379.5 1071.5,379.6 1075.5,378.6 1079.5,377.7 1083.5,376.9 1087.5,376.2 1091.5,375.4 1095.5,375.2 1099.5,374.8 1103.5,375.5 1107.5,376.3 1111.5,377.4 1115.5,377.8 1119.5,378.7 1123.5,378.9 1127.5,379.6 1131.5,380.8 1135.5,382.1 1139.5,384.1 1143.5,386.8 1147.5,387.3 1151.5,387.1 1155.5,386.6 1159.5,386.4 1163.5,386.0 1167.5,385.2 1171.5,383.7 1175.5,383.6 1179.5,383.3 1183.5,383.0 1187.5,382.9 1191.5,382.0 1195.5,381.6 1199.5,383.6 1203.5,386.4 1207.5,389.5 1211.5,392.5 1215.5,395.9 1219.5,400.8 1223.5,405.0 1227.5,408.7 1231.5,411.9 1235.5,415.0 1239.5,418.7 1243.5,424.0 1247.5,428.6 1251.5,432.6 1255.5,436.5 1259.5,440.3 1263.5,443.8 1267.5,446.8 1271.5,447.7 1275.5,447.7 1279.5,447.9 1283.5,448.1 1287.5,448.0 1291.5,447.8 1295.5,447.8 1299.5,447.6 1303.5,448.3 1307.5,449.2 1311.5,450.0 1315.5,450.9 1319.5,452.4 1323.5,452.2 1327.5,451.5 1331.5,451.2 1335.5,450.8 1339.5,450.3 1343.5,449.2 1347.5,448.4 1351.5,447.9 1355.5,446.8 1359.5,445.3 1363.5,443.5 1367.5,442.0 1371.5,441.0 1375.5,440.9 1379.5,441.9 1383.5,442.9 1387.5,443.8 1391.5,445.1 1395.5,446.2 1399.5,446.5 1403.5,447.2 1407.5,448.3 1411.5,449.0 1415.5,450.0 1419.5,450.5 1423.5,451.2 1427.5,450.8 1431.5,450.7 1435.5,450.5 1439.5,450.8 1443.5,450.6 1447.5,449.7 1451.5,450.2 1455.5,450.4 1459.5,450.8 1463.5,451.4 1467.5,451.8 1471.5,451.8 1475.5,452.0 1479.5,452.0 1483.5,452.1 1487.5,452.7 1491.5,453.3" fill="none" stroke="#ff0000" stroke-width="1" shape-rendering="crispEdges" />
<polyline points="3.5,154.0 7.5,155.9 11.5,157.8 15.5,158.9 19.5,160.9 23.5,158.7 27.5,158.0 31.5,158.0 35.5,158.4 39.5,158.1 43.5,156.5 47.5,156.3 51.5,153.6 55.5,150.8 59.5,150.0 63.5,149.7 67.5,149.2 71.5,149.2 75.5,150.3 79.5,154.2 83.5,156.9 87.5,160.2 91.5,162.9 95.5,164.7 99.5,168.7 103.5,171.6 107.5,174.2 111.5,173.8 115.5,171.1 119.5,171.0 123.5,172.9 127.5,174.2 131.5,175.1 135.5,175.1 139.5,175.6 143.5,175.7 147.5,178.1 151.5,180.7 155.5,182.6 159.5,185.0 163.5,187.0 167.5,191.6 171.5,196.9 175.5,202.5 179.5,207.0 183.5,210.9 187.5,213.2 191.5,216.3 195.5,218.9 199.5,219.1 203.5,221.4 207.5,223.0 211.5,224.2 215.5,226.8 219.5,230.1 223.5,236.0 227.5,242.0 231.5,247.1 235.5,251.0 239.5,254.4 243.5,257.2 247.5,257.1 251.5,258.7 255.5,259.7 259.5,260.7 263.5,262.5 267.5,265.0 271.5,268.5 275.5,273.1 279.5,277.0 283.5,282.3 287.5,286.1 291.5,289.5 295.5,292.0 299.5,293.6 303.5,294.9 307.5,298.3 311.5,300.4 315.5,302.4 319.5,303.9 323.5,307.1 327.5,312.6 331.5,316.0 335.5,320.8 339.5,324.5 343.5,328.3 347.5,330.3 351.5,331.8 355.5,333.3 359.5,334.4 363.5,335.1 367.5,334.9 371.5,333.6 375.5,331.5 379.5,330.9 383.5,331.7 387.5,331.6 391.5,333.6 395.5,334.8 399.5,332.9 403.5,330.7 407.5,327.7 411.5,325.0 415.5,322.6 419.5,318.9 423.5,316.1 427.5,311.9 431.5,311.5 435.5,312.2 439.5,313.0 443.5,314.2 447.5,313.9 451.5,311.6 455.5,310.8 459.5,306.6 463.5,302.2 467.5,297.9 471.5,294.3 475.5,290.1 479.5,285.5 483.5,282.6 487.5,279.3 491.5,275.9 495.5,271.7 499.5,267.4 503.5,265.6 507.5,263.4 511.5,261.7 515.5,260.2 519.5,259.1 523.5,259.9 527.5,259.8 531.5,259.0 535.5,258.6 539.5,258.4 543.5,257.7 547.5,256.2 551.5,259.3 555.5,259.8 559.5,261.1 563.5,262.4 567.5,264.5 571.5,267.2 575.5,267.2 579.5,269.7 583.5,270.4 587.5,271.4 591.5,272.8 595.5,274.5 599.5,277.7 603.5,278.3 607.5,279.3 611.5,278.9 615.5,278.1 619.5,276.3 623.5,272.7 627.5,275.9 631.5,282.1 635.5,288.5 639.5,295.3 643.5,302.4 647.5,305.7 651.5,308.9 655.5,312.1 659.5,315.1 663.5,318.4 667.5,321.8 671.5,326.1 675.5,329.3 679.5,333.3 683.5,336.9 687.5,339.9 691.5,341.3 695.5,346.0 699.5,352.8 703.5,359.0 707.5,364.8 711.5,370.0 715.5,375.2 719.5,380.5 723.5,385.0 727.5,388.1 731.5,390.2 735.5,393.0 739.5,396.1 743.5,401.1 747.5,405.4 751.5,401.3 755.5,397.9 759.5,395.3 763.5,392.3 767.5,387.5 771.5,382.3 775.5,379.5 779.5,377.6 783.5,375.9 787.5,373.7 791.5,372.8 795.5,373.0 799.5,371.9 803.5,370.2 807.5,368.0 811.5,365.8 815.5,363.5 819.5,362.4 823.5,363.4 827.5,364.8 831.5,365.9 835.5,367.7 839.5,369.4 843.5,370.1 847.5,372.5 851.5,378.5 855.5,385.3 859.5,392.0 863.5,398.1 867.5,406.3 871.5,412.3 875.5,417.9 879.5,425.1 883.5,430.9 887.5,434.0 891.5,437.1 895.5,437.7 899.5,434.3 903.5,432.0 907.5,428.8 911.5,426.1 915.5,425.2 919.5,424.3 923.5,424.5 927.5,427.4 931.5,429.9 935.5,431.0 939.5,433.0 943.5,433.7 947.5,431.6 951.5,430.5 955.5,428.5 959.5,426.5 963.5,423.7 967.5,420.1 971.5,417.8 975.5,415.8 979.5,412.2 983.5,409.4 987.5,406.7 991.5,403.6 995.5,400.5 999.5,399.1 1003.5,398.5 1007.5,397.4 1011.5,397.0 1015.5,394.8 1019.5,393.4 1023.5,389.1 1027.5,385.9 1031.5,381.9 1035.5,377.1 1039.5,373.2 1043.5,368.7 1047.5,363.0 1051.5,362.6 1055.5,362.7 1059.5,363.0 1063.5,363.1 1067.5,363.1 1071.5,364.6 1075.5,363.8 1079.5,363.0 1083.5,362.6 1087.5,362.3 1091.5,361.6 1095.5,362.3 1099.5,362.5 1103.5,365.4 1107.5,368.2 1111.5,371.5 1115.5,373.0 1119.5,375.4 1123.5,376.2 1127.5,378.0 1131.5,381.0 1135.5,383.9 1139.5,388.3 1143.5,394.2 1147.5,394.8 1151.5,393.6 1155.5,392.0 1159.5,390.9 1163.5,389.6 1167.5,387.5 1171.5,383.7 1175.5,383.4 1179.5,382.9 1183.5,382.2 1187.5,381.9 1191.5,380.0 1195.5,379.4 1199.5,384.1 1203.5,390.6 1207.5,397.3 1211.5,403.5 1215.5,410.4 1219.5,420.6 1223.5,428.5 1227.5,435.0 1231.5,439.9 1235.5,444.6 1239.5,450.4 1243.5,459.9 1247.5,467.2 1251.5,473.1 1255.5,478.5 1259.5,483.4 1263.5,487.5 1267.5,490.5 1271.5,488.7 1275.5,484.9 1279.5,482.0 1283.5,479.5 1287.5,476.3 1291.5,473.3 1295.5,471.0 1299.5,468.4 1303.5,468.0 1307.5,468.4 1311.5,468.6 1315.5,468.8 1319.5,470.8 1323.5,468.7 1327.5,465.4 1331.5,463.5 1335.5,461.5 1339.5,459.3 1343.5,455.9 1347.5,453.5 1351.5,452.0 1355.5,449.1 1359.5,445.2 1363.5,441.0 1367.5,437.8 1371.5,436.0 1375.5,436.1 1379.5,438.8 1383.5,441.5 1387.5,443.6 1391.5,446.6 1395.5,449.2 1399.5,449.5 1403.5,450.9 1407.5,453.2 1411.5,454.4 1415.5,456.1 1419.5,456.8 1423.5,457.7 1427.5,456.2 1431.5,455.5 1435.5,454.7 1439.5,454.9 1443.5,454.2 1447.5,451.8 1451.5,452.7 1455.5,452.8 1459.5,453.6 1463.5,454.7 1467.5,455.4 1471.5,455.1 1475.5,455.3 1479.5,454.9 1483.5,454.8 1487.5,456.0 1491.5,457.1" fill="none" stroke="#ffff00" stroke-width="1" shape-rendering="crispEdges" />
<line x1="3" x2="1873" y1="103.5" y2="103.5" stroke="#000" stroke-width="1" stroke-dasharray="9 6 3 6" shape-rendering="crispEdges"/>
<line x1="3" x2="1873" y1="206.5" y2="206.5" stroke="#000" stroke-width="1" stroke-dasharray="9 6 3 6" shape-rendering="crispEdges"/>
<line x1="3" x2="1873" y1="284.5" y2="284.5" stroke="#000" stroke-width="1" stroke-dasharray="9 6 3 6" shape-rendering="crispEdges"/>
<line x1="3" x2="1873" y1="333.5" y2="333.5" stroke="#000" stroke-width="1" stroke-dasharray="9 6 3 6" shape-rendering="crispEdges"/>
<line x1="3" x2="1873" y1="386.5" y2="386.5" stroke="#000" stroke-width="1" stroke-dasharray="9 6 3 6" shape-rendering="crispEdges"/>
<line x1="3" x2="1873" y1="489.5" y2="489.5" stroke="#000" stroke-width="1" stroke-dasharray="9 6 3 6" shape-rendering="crispEdges"/>
<line x1="3" x2="1873" y1="542.5" y2="542.5" stroke="#000" stroke-width="1" stroke-dasharray="9 6 3 6" shape-rendering="crispEdges"/>
<line x1="3" x2="1873" y1="574.5" y2="574.5" stroke="#000" stroke-width="1" stroke-dasharray="9 6 3 6" shape-rendering="crispEdges"/>
<line x1="3" x2="1873" y1="649.5" y2="649.5" stroke="#000" stroke-width="1" stroke-dasharray="9 6 3 6" shape-rendering="crispEdges"/>
<line x1="3" y1="99.5" x2="1800" y2="447.2" stroke="#06aedb" stroke-width="2.2" shape-rendering="crispEdges"/>
<line x1="3" y1="335.5" x2="1728" y2="669.3" stroke="#06aedb" stroke-width="2.2" shape-rendering="crispEdges"/>
<g shape-rendering="crispEdges">
<path d="M7.5,169V174M7.5,211V214M15.5,163V169M15.5,176V177M23.5,130V136M23.5,181V186M39.5,154V155M39.5,160V162M43.5,136V139M43.5,156V157M51.5,119V126M51.5,154V158M55.5,110V123M55.5,125V133M67.5,137V143M67.5,147V148M83.5,169V184M83.5,192V197M91.5,181V190M91.5,192V199M95.5,173V182M95.5,191V192M103.5,179V200M103.5,207V219M107.5,184V199M107.5,201V209M111.5,169V169M111.5,199V209M115.5,139V144M115.5,170V172M127.5,176V186M127.5,192V202M131.5,169V184M131.5,186V192M135.5,174V175M135.5,184V185M143.5,171V176M143.5,179V187M155.5,195V201M155.5,207V213M163.5,200V206M163.5,214V219M179.5,231V252M179.5,258V261M183.5,243V249M183.5,251V256M187.5,234V236M187.5,249V250M195.5,240V245M195.5,246V250M199.5,194V220M199.5,245V248M207.5,227V239M207.5,245V247M211.5,233V235M211.5,238V242M231.5,288V297M231.5,302V317M235.5,288V290M235.5,298V312M239.5,273V287M239.5,290V294M243.5,275V285M243.5,287V293M247.5,243V255M247.5,286V293M255.5,257V269M255.5,275V282M279.5,312V315M279.5,319V324M291.5,321V323M291.5,327V329M295.5,314V317M295.5,323V326M299.5,300V309M299.5,318V319M303.5,303V307M303.5,309V320M311.5,319V321M311.5,332V332M319.5,316V318M319.5,322V333M331.5,331V349M331.5,367V379M339.5,357V362M339.5,368V378M347.5,347V349M347.5,366V371M351.5,334V346M351.5,349V362M359.5,329V345M359.5,348V352M363.5,336V341M363.5,345V348M367.5,329V333M367.5,341V346M371.5,309V320M371.5,333V333M375.5,296V310M375.5,320V323M387.5,329V330M387.5,339V341M395.5,342V346M395.5,352V364M399.5,309V313M399.5,347V353M403.5,303V308M403.5,313V343M407.5,286V297M407.5,309V310M415.5,297V299M415.5,301V305M419.5,275V281M419.5,295V296M427.5,260V269M427.5,287V298M447.5,309V310M447.5,326V329M451.5,264V288M451.5,311V322M459.5,252V264M459.5,301V302M463.5,257V258M463.5,265V277M467.5,247V254M467.5,258V260M475.5,232V248M475.5,258V262M479.5,228V239M479.5,248V250M487.5,245V245M487.5,253V255M491.5,231V242M491.5,245V248M495.5,224V229M495.5,242V243M499.5,207V224M499.5,230V238M507.5,220V241M507.5,246V255M527.5,249V258M527.5,267V292M531.5,246V251M531.5,258V264M543.5,241V250M543.5,255V256M547.5,233V240M547.5,251V258M555.5,258V264M555.5,291V297M575.5,245V267M575.5,295V296M583.5,241V277M583.5,294V295M603.5,278V284M603.5,309V313M611.5,269V274M611.5,289V291M615.5,268V270M615.5,274V281M619.5,257V257M619.5,270V272M623.5,226V236M623.5,258V264M647.5,337V338M647.5,372V394M675.5,355V360M675.5,369V383M687.5,366V369M687.5,373V375M691.5,350V354M691.5,369V370M711.5,413V421M711.5,423V425M723.5,420V430M723.5,433V438M727.5,397V418M727.5,430V435M731.5,388V410M731.5,419V422M747.5,433V447M747.5,450V471M751.5,352V360M751.5,449V450M763.5,358V362M763.5,369V370M767.5,334V339M767.5,361V362M771.5,319V330M771.5,340V347M787.5,350V352M787.5,361V373M799.5,353V361M799.5,374V387M803.5,337V353M803.5,361V365M807.5,336V345M807.5,353V356M811.5,338V343M811.5,345V349M815.5,337V339M815.5,343V349M831.5,367V377M831.5,379V407M843.5,377V377M843.5,386V392M871.5,465V472M871.5,488V497M883.5,485V488M883.5,497V497M887.5,457V464M887.5,488V495M895.5,412V443M895.5,467V471M899.5,395V399M899.5,444V448M907.5,391V396M907.5,409V410M919.5,413V414M919.5,416V427M931.5,446V454M931.5,456V462M935.5,438V442M935.5,455V457M943.5,432V439M943.5,453V456M947.5,403V411M947.5,440V441M955.5,406V408M955.5,419V430M959.5,401V406M959.5,409V410M963.5,390V394M963.5,407V410M967.5,381V384M967.5,395V399M979.5,366V376M979.5,396V396M987.5,377V379M987.5,381V388M991.5,365V372M991.5,381V389M995.5,354V369M995.5,372V384M1007.5,385V386M1007.5,392V393M1015.5,369V372M1015.5,393V394M1023.5,344V346M1023.5,378V388M1031.5,337V341M1031.5,354V354M1035.5,317V329M1035.5,346V347M1043.5,310V323M1043.5,334V337M1047.5,285V305M1047.5,323V337M1063.5,356V364M1063.5,366V369M1067.5,359V362M1067.5,364V385M1075.5,339V355M1075.5,379V382M1079.5,338V354M1079.5,356V374M1091.5,347V354M1091.5,359V364M1099.5,348V364M1099.5,368V376M1115.5,387V387M1115.5,403V407M1123.5,369V384M1123.5,400V415M1147.5,396V400M1147.5,453V460M1151.5,378V381M1151.5,401V404M1155.5,373V375M1155.5,382V384M1159.5,379V380M1159.5,383V386M1163.5,373V376M1163.5,380V384M1167.5,362V366M1167.5,377V378M1171.5,344V345M1171.5,367V382M1179.5,374V378M1179.5,379V389M1183.5,370V374M1183.5,378V381M1191.5,358V360M1191.5,379V379M1223.5,502V507M1223.5,522V531M1227.5,491V499M1227.5,508V513M1231.5,484V489M1231.5,499V504M1247.5,538V540M1247.5,554V574M1251.5,507V531M1251.5,540V557M1259.5,524V532M1259.5,533V547M1263.5,516V529M1263.5,533V538M1267.5,512V519M1267.5,529V545M1271.5,460V470M1271.5,520V521M1275.5,443V447M1275.5,471V474M1283.5,453V454M1283.5,457V459M1287.5,443V444M1287.5,457V459M1291.5,431V443M1291.5,444V448M1299.5,430V442M1299.5,448V463M1311.5,467V469M1311.5,472V476M1323.5,445V447M1323.5,490V492M1327.5,429V432M1327.5,448V465M1335.5,435V441M1335.5,444V448M1339.5,430V437M1339.5,441V442M1343.5,420V421M1343.5,438V446M1355.5,414V419M1355.5,437V446M1359.5,400V406M1359.5,420V422M1363.5,391V398M1363.5,407V407M1387.5,464V465M1387.5,467V472M1395.5,455V474M1395.5,476V485M1399.5,450V452M1399.5,475V484M1411.5,458V466M1411.5,472V474M1419.5,460V463M1419.5,473V474M1427.5,435V440M1427.5,467V467M1435.5,446V447M1435.5,448V453M1443.5,445V447M1443.5,457V463M1447.5,425V427M1447.5,447V449M1455.5,449V454M1455.5,461V472M1467.5,460V462M1467.5,465V476M1471.5,449V452M1471.5,463V468M1479.5,444V451M1479.5,457V470" stroke="#06aedb" stroke-width="1" fill="none"/>
<path d="M6.5,174.5H8.5V210.5H6.5zM14.5,169.5H16.5V175.5H14.5zM22.5,136.5H24.5V180.5H22.5zM38.5,155.5H40.5V159.5H38.5zM42.5,139.5H44.5V155.5H42.5zM50.5,126.5H52.5V153.5H50.5zM54.5,123.5H56.5V124.5H54.5zM66.5,143.5H68.5V146.5H66.5zM82.5,184.5H84.5V191.5H82.5zM90.5,190.5H92.5V191.5H90.5zM94.5,182.5H96.5V190.5H94.5zM102.5,200.5H104.5V206.5H102.5zM106.5,199.5H108.5V200.5H106.5zM110.5,169.5H112.5V198.5H110.5zM114.5,144.5H116.5V169.5H114.5zM126.5,186.5H128.5V191.5H126.5zM130.5,184.5H132.5V185.5H130.5zM134.5,175.5H136.5V183.5H134.5zM142.5,176.5H144.5V178.5H142.5zM154.5,201.5H156.5V206.5H154.5zM162.5,206.5H164.5V213.5H162.5zM178.5,252.5H180.5V257.5H178.5zM182.5,249.5H184.5V250.5H182.5zM186.5,236.5H188.5V248.5H186.5zM194.5,245.5H196.5V245.5H194.5zM198.5,220.5H200.5V244.5H198.5zM206.5,239.5H208.5V244.5H206.5zM210.5,235.5H212.5V237.5H210.5zM230.5,297.5H232.5V301.5H230.5zM234.5,290.5H236.5V297.5H234.5zM238.5,287.5H240.5V289.5H238.5zM242.5,285.5H244.5V286.5H242.5zM246.5,255.5H248.5V285.5H246.5zM254.5,269.5H256.5V274.5H254.5zM278.5,315.5H280.5V318.5H278.5zM290.5,323.5H292.5V326.5H290.5zM294.5,317.5H296.5V322.5H294.5zM298.5,309.5H300.5V317.5H298.5zM302.5,307.5H304.5V308.5H302.5zM310.5,321.5H312.5V331.5H310.5zM318.5,318.5H320.5V321.5H318.5zM330.5,349.5H332.5V366.5H330.5zM338.5,362.5H340.5V367.5H338.5zM346.5,349.5H348.5V365.5H346.5zM350.5,346.5H352.5V348.5H350.5zM358.5,345.5H360.5V347.5H358.5zM362.5,341.5H364.5V344.5H362.5zM366.5,333.5H368.5V340.5H366.5zM370.5,320.5H372.5V332.5H370.5zM374.5,310.5H376.5V319.5H374.5zM386.5,330.5H388.5V338.5H386.5zM394.5,346.5H396.5V351.5H394.5zM398.5,313.5H400.5V346.5H398.5zM402.5,308.5H404.5V312.5H402.5zM406.5,297.5H408.5V308.5H406.5zM414.5,299.5H416.5V300.5H414.5zM418.5,281.5H420.5V294.5H418.5zM426.5,269.5H428.5V286.5H426.5zM446.5,310.5H448.5V325.5H446.5zM450.5,288.5H452.5V310.5H450.5zM458.5,264.5H460.5V300.5H458.5zM462.5,258.5H464.5V264.5H462.5zM466.5,254.5H468.5V257.5H466.5zM474.5,248.5H476.5V257.5H474.5zM478.5,239.5H480.5V247.5H478.5zM486.5,245.5H488.5V252.5H486.5zM490.5,242.5H492.5V244.5H490.5zM494.5,229.5H496.5V241.5H494.5zM498.5,224.5H500.5V229.5H498.5zM506.5,241.5H508.5V245.5H506.5zM526.5,258.5H528.5V266.5H526.5zM530.5,251.5H532.5V257.5H530.5zM542.5,250.5H544.5V254.5H542.5zM546.5,240.5H548.5V250.5H546.5zM554.5,264.5H556.5V290.5H554.5zM574.5,267.5H576.5V294.5H574.5zM582.5,277.5H584.5V293.5H582.5zM602.5,284.5H604.5V308.5H602.5zM610.5,274.5H612.5V288.5H610.5zM614.5,270.5H616.5V273.5H614.5zM618.5,257.5H620.5V269.5H618.5zM622.5,236.5H624.5V257.5H622.5zM646.5,338.5H648.5V371.5H646.5zM674.5,360.5H676.5V368.5H674.5zM686.5,369.5H688.5V372.5H686.5zM690.5,354.5H692.5V368.5H690.5zM710.5,421.5H712.5V422.5H710.5zM722.5,430.5H724.5V432.5H722.5zM726.5,418.5H728.5V429.5H726.5zM730.5,410.5H732.5V418.5H730.5zM746.5,447.5H748.5V449.5H746.5zM750.5,360.5H752.5V448.5H750.5zM762.5,362.5H764.5V368.5H762.5zM766.5,339.5H768.5V360.5H766.5zM770.5,330.5H772.5V339.5H770.5zM786.5,352.5H788.5V360.5H786.5zM798.5,361.5H800.5V373.5H798.5zM802.5,353.5H804.5V360.5H802.5zM806.5,345.5H808.5V352.5H806.5zM810.5,343.5H812.5V344.5H810.5zM814.5,339.5H816.5V342.5H814.5zM830.5,377.5H832.5V378.5H830.5zM842.5,377.5H844.5V385.5H842.5zM870.5,472.5H872.5V487.5H870.5zM882.5,488.5H884.5V496.5H882.5zM886.5,464.5H888.5V487.5H886.5zM894.5,443.5H896.5V466.5H894.5zM898.5,399.5H900.5V443.5H898.5zM906.5,396.5H908.5V408.5H906.5zM918.5,414.5H920.5V415.5H918.5zM930.5,454.5H932.5V455.5H930.5zM934.5,442.5H936.5V454.5H934.5zM942.5,439.5H944.5V452.5H942.5zM946.5,411.5H948.5V439.5H946.5zM954.5,408.5H956.5V418.5H954.5zM958.5,406.5H960.5V408.5H958.5zM962.5,394.5H964.5V406.5H962.5zM966.5,384.5H968.5V394.5H966.5zM978.5,376.5H980.5V395.5H978.5zM986.5,379.5H988.5V380.5H986.5zM990.5,372.5H992.5V380.5H990.5zM994.5,369.5H996.5V371.5H994.5zM1006.5,386.5H1008.5V391.5H1006.5zM1014.5,372.5H1016.5V392.5H1014.5zM1022.5,346.5H1024.5V377.5H1022.5zM1030.5,341.5H1032.5V353.5H1030.5zM1034.5,329.5H1036.5V345.5H1034.5zM1042.5,323.5H1044.5V333.5H1042.5zM1046.5,305.5H1048.5V322.5H1046.5zM1062.5,364.5H1064.5V365.5H1062.5zM1066.5,362.5H1068.5V363.5H1066.5zM1074.5,355.5H1076.5V378.5H1074.5zM1078.5,354.5H1080.5V355.5H1078.5zM1090.5,354.5H1092.5V358.5H1090.5zM1098.5,364.5H1100.5V367.5H1098.5zM1114.5,387.5H1116.5V402.5H1114.5zM1122.5,384.5H1124.5V399.5H1122.5zM1146.5,400.5H1148.5V452.5H1146.5zM1150.5,381.5H1152.5V400.5H1150.5zM1154.5,375.5H1156.5V381.5H1154.5zM1158.5,380.5H1160.5V382.5H1158.5zM1162.5,376.5H1164.5V379.5H1162.5zM1166.5,366.5H1168.5V376.5H1166.5zM1170.5,345.5H1172.5V366.5H1170.5zM1178.5,378.5H1180.5V378.5H1178.5zM1182.5,374.5H1184.5V377.5H1182.5zM1190.5,360.5H1192.5V378.5H1190.5zM1222.5,507.5H1224.5V521.5H1222.5zM1226.5,499.5H1228.5V507.5H1226.5zM1230.5,489.5H1232.5V498.5H1230.5zM1246.5,540.5H1248.5V553.5H1246.5zM1250.5,531.5H1252.5V539.5H1250.5zM1258.5,532.5H1260.5V532.5H1258.5zM1262.5,529.5H1264.5V532.5H1262.5zM1266.5,519.5H1268.5V528.5H1266.5zM1270.5,470.5H1272.5V519.5H1270.5zM1274.5,447.5H1276.5V470.5H1274.5zM1282.5,454.5H1284.5V456.5H1282.5zM1286.5,444.5H1288.5V456.5H1286.5zM1290.5,443.5H1292.5V443.5H1290.5zM1298.5,442.5H1300.5V447.5H1298.5zM1310.5,469.5H1312.5V471.5H1310.5zM1322.5,447.5H1324.5V489.5H1322.5zM1326.5,432.5H1328.5V447.5H1326.5zM1334.5,441.5H1336.5V443.5H1334.5zM1338.5,437.5H1340.5V440.5H1338.5zM1342.5,421.5H1344.5V437.5H1342.5zM1354.5,419.5H1356.5V436.5H1354.5zM1358.5,406.5H1360.5V419.5H1358.5zM1362.5,398.5H1364.5V406.5H1362.5zM1386.5,465.5H1388.5V466.5H1386.5zM1394.5,474.5H1396.5V475.5H1394.5zM1398.5,452.5H1400.5V474.5H1398.5zM1410.5,466.5H1412.5V471.5H1410.5zM1418.5,463.5H1420.5V472.5H1418.5zM1426.5,440.5H1428.5V466.5H1426.5zM1434.5,447.5H1436.5V447.5H1434.5zM1442.5,447.5H1444.5V456.5H1442.5zM1446.5,427.5H1448.5V446.5H1446.5zM1454.5,454.5H1456.5V460.5H1454.5zM1466.5,462.5H1468.5V464.5H1466.5zM1470.5,452.5H1472.5V462.5H1470.5zM1478.5,451.5H1480.5V456.5H1478.5z" stroke="#06aedb" stroke-width="1" fill="#fff"/>
<path d="M3.5,121V217M11.5,171V180M19.5,166V187M27.5,120V151M31.5,138V166M35.5,153V162M47.5,135V157M59.5,118V149M63.5,139V149M71.5,142V160M75.5,144V172M79.5,160V223M87.5,179V194M99.5,179V214M119.5,141V172M123.5,161V206M139.5,174V184M147.5,168V209M151.5,189V220M159.5,200V211M167.5,204V241M171.5,231V250M175.5,244V265M191.5,232V249M203.5,213V249M215.5,230V253M219.5,247V269M223.5,260V299M227.5,284V327M251.5,249V284M259.5,263V284M263.5,269V286M267.5,276V293M271.5,275V309M275.5,294V327M283.5,315V336M287.5,314V327M307.5,307V334M315.5,319V328M323.5,312V344M327.5,335V399M335.5,348V382M343.5,355V372M355.5,325V353M379.5,296V345M383.5,323V345M391.5,330V354M411.5,292V300M423.5,275V288M431.5,264V311M435.5,303V333M439.5,317V326M443.5,315V328M455.5,277V307M471.5,240V261M483.5,236V261M503.5,217V281M511.5,238V254M515.5,242V250M519.5,237V257M523.5,231V270M535.5,249V258M539.5,251V255M551.5,230V299M559.5,263V284M563.5,269V279M567.5,272V298M571.5,281V301M579.5,260V295M587.5,275V283M591.5,278V288M595.5,284V293M599.5,286V325M607.5,266V318M627.5,231V328M631.5,294V352M635.5,335V363M639.5,350V368M643.5,361V381M651.5,331V359M655.5,331V348M659.5,339V348M663.5,345V358M667.5,347V358M671.5,347V370M679.5,360V380M683.5,358V376M695.5,349V397M699.5,390V430M703.5,414V437M707.5,410V427M715.5,416V432M719.5,418V440M735.5,410V423M739.5,418V430M743.5,425V452M755.5,356V374M759.5,361V377M775.5,329V367M779.5,346V369M783.5,355V360M791.5,350V367M795.5,359V375M819.5,335V357M823.5,340V397M827.5,361V383M835.5,376V393M839.5,383V390M847.5,376V409M851.5,392V444M855.5,435V455M859.5,450V468M863.5,457V468M867.5,457V496M875.5,465V508M879.5,472V497M891.5,451V477M903.5,396V413M911.5,395V418M915.5,394V417M923.5,413V441M927.5,426V476M939.5,440V462M951.5,396V431M971.5,384V422M975.5,388V402M983.5,372V384M999.5,347V398M1003.5,378V399M1011.5,381V399M1019.5,363V387M1027.5,345V361M1039.5,325V342M1051.5,293V374M1055.5,350V410M1059.5,358V371M1071.5,329V380M1083.5,342V363M1087.5,352V367M1095.5,340V378M1103.5,363V401M1107.5,392V402M1111.5,394V409M1119.5,382V400M1127.5,372V399M1131.5,390V417M1135.5,408V422M1139.5,411V436M1143.5,426V471M1175.5,335V380M1187.5,374V382M1195.5,352V379M1199.5,372V441M1203.5,415V496M1207.5,454V468M1211.5,460V473M1215.5,462V487M1219.5,467V536M1235.5,483V499M1239.5,484V512M1243.5,505V555M1255.5,529V542M1279.5,445V453M1295.5,436V450M1303.5,437V472M1307.5,459V485M1315.5,465V476M1319.5,469V493M1331.5,432V452M1347.5,417V444M1351.5,417V449M1367.5,392V408M1371.5,397V419M1375.5,408V456M1379.5,434V468M1383.5,461V471M1391.5,461V479M1403.5,451V471M1407.5,461V476M1415.5,460V474M1423.5,444V475M1431.5,437V450M1439.5,444V463M1451.5,420V480M1459.5,449V462M1463.5,456V467M1475.5,440V464M1483.5,449V462M1487.5,452V468M1491.5,464V472" stroke="#3c3c3c" stroke-width="1" fill="none"/>
<path d="M2,121H5V217H2zM10,174H13V176H10zM18,169H21V181H18zM26,136H29V151H26zM30,150H33V157H30zM34,154H37V162H34zM46,139H49V154H46zM58,123H61V141H58zM62,140H65V147H62zM70,143H73V149H70zM74,149H77V161H74zM78,160H81V193H78zM86,183H89V192H86zM98,182H101V208H98zM118,144H121V169H118zM122,168H125V192H122zM138,176H141V180H138zM146,176H149V201H146zM150,200H153V207H150zM158,201H161V209H158zM166,206H169V237H166zM170,236H173V249H170zM174,249H177V258H174zM190,236H193V247H190zM202,220H205V244H202zM214,235H217V253H214zM218,253H221V262H218zM222,261H225V295H222zM226,295H229V302H226zM250,255H253V275H250zM258,269H261V270H258zM262,270H265V280H262zM266,280H269V289H266zM270,289H273V302H270zM274,302H277V319H274zM282,315H285V334H282zM286,320H289V324H286zM306,307H309V332H306zM314,321H317V322H314zM322,318H325V339H322zM326,339H329V367H326zM334,349H337V368H334zM342,361H345V366H342zM354,346H357V348H354zM378,310H381V325H378zM382,324H385V339H382zM390,330H393V353H390zM410,297H413V298H410zM422,280H425V288H422zM430,269H433V308H430zM434,307H437V319H434zM438,318H441V320H438zM442,319H445V326H442zM454,288H457V302H454zM470,254H473V258H470zM482,239H485V253H482zM502,224H505V246H502zM510,241H513V243H510zM514,243H517V245H514zM518,245H521V248H518zM522,247H525V267H522zM534,251H537V254H534zM538,252H541V255H538zM550,240H553V291H550zM558,264H561V274H558zM562,273H565V275H562zM566,274H569V284H566zM570,284H573V294H570zM578,266H581V294H578zM586,277H589V281H586zM590,280H593V286H590zM594,285H597V291H594zM598,290H601V309H598zM606,283H609V289H606zM626,236H629V308H626zM630,307H633V343H630zM634,343H637V351H634zM638,351H641V363H638zM642,363H645V373H642zM650,338H653V340H650zM654,340H657V344H654zM658,343H661V345H658zM662,345H665V351H662zM666,350H669V355H666zM670,354H673V369H670zM678,360H681V373H678zM682,372H685V373H682zM694,354H697V393H694zM698,392H701V420H698zM702,419H705V421H702zM706,421H709V423H706zM714,421H717V426H714zM718,426H721V433H718zM734,410H737V421H734zM738,420H741V427H738zM742,426H745V451H742zM754,361H757V363H754zM758,361H761V369H758zM774,330H777V351H774zM778,350H781V358H778zM782,357H785V358H782zM790,352H793V363H790zM794,363H797V374H794zM818,339H821V351H818zM822,351H825V373H822zM826,372H829V379H826zM834,377H837V385H834zM838,384H841V386H838zM846,377H849V396H846zM850,395H853V438H850zM854,438H857V452H854zM858,451H861V458H858zM862,458H865V459H862zM866,458H869V488H866zM874,472H877V474H874zM878,473H881V497H878zM890,464H893V468H890zM902,399H905V409H902zM910,397H913V399H910zM914,398H917V416H914zM922,414H925V427H922zM926,426H929V456H926zM938,442H941V453H938zM950,411H953V419H950zM970,384H973V394H970zM974,393H977V395H974zM982,376H985V381H982zM998,369H1001V384H998zM1002,384H1005V392H1002zM1010,386H1013V393H1010zM1018,372H1021V378H1018zM1026,346H1029V354H1026zM1038,329H1041V334H1038zM1050,305H1053V359H1050zM1054,358H1057V363H1054zM1058,362H1061V366H1058zM1070,362H1073V379H1070zM1082,354H1085V358H1082zM1086,358H1089V359H1086zM1094,354H1097V369H1094zM1102,364H1105V394H1102zM1106,393H1109V396H1106zM1110,396H1113V404H1110zM1118,387H1121V399H1118zM1126,384H1129V395H1126zM1130,394H1133V411H1130zM1134,410H1137V413H1134zM1138,412H1141V432H1138zM1142,431H1145V453H1142zM1174,345H1177V379H1174zM1186,374H1189V379H1186zM1194,360H1197V373H1194zM1198,372H1201V431H1198zM1202,429H1205V455H1202zM1206,455H1209V463H1206zM1210,464H1213V465H1210zM1214,464H1217V479H1214zM1218,479H1221V522H1218zM1234,489H1237V490H1234zM1238,490H1241V508H1238zM1242,508H1245V554H1242zM1254,531H1257V532H1254zM1278,447H1281V452H1278zM1294,443H1297V448H1294zM1302,442H1305V464H1302zM1306,463H1309V472H1306zM1314,470H1317V471H1314zM1318,470H1321V490H1318zM1330,432H1333V444H1330zM1346,421H1349V429H1346zM1350,428H1353V437H1350zM1366,398H1369V405H1366zM1370,404H1373V418H1370zM1374,417H1377V437H1374zM1378,436H1381V465H1378zM1382,464H1385V468H1382zM1390,464H1393V476H1390zM1402,452H1405V464H1402zM1406,462H1409V476H1406zM1414,465H1417V473H1414zM1422,464H1425V467H1422zM1430,440H1433V448H1430zM1438,446H1441V457H1438zM1450,427H1453V461H1450zM1458,453H1461V461H1458zM1462,460H1465V465H1462zM1474,451H1477V457H1474zM1482,451H1485V454H1482zM1486,453H1489V467H1486zM1490,466H1493V469H1490z" fill="#3c3c3c"/>
<path d="M1868.5,336V331.5H1873" stroke="#000" fill="none"/>
<path d="M3.5,336V331.5H8" stroke="#000" fill="none"/>
<rect x="4" y="333" width="4" height="1" fill="#fff"/><rect x="1869" y="333" width="4" height="1" fill="#fff"/><rect x="1866" y="333" width="2" height="1" fill="#000"/>
<path d="M1868.5,545V540.5H1873" stroke="#000" fill="none"/>
<path d="M3.5,545V540.5H8" stroke="#000" fill="none"/>
<rect x="4" y="542" width="4" height="1" fill="#fff"/><rect x="1869" y="542" width="4" height="1" fill="#fff"/><rect x="1866" y="542" width="2" height="1" fill="#000"/>
<line x1="123" x2="148" y1="206.5" y2="206.5" stroke="#000"/>
<line x1="435" x2="443" y1="333.5" y2="333.5" stroke="#000"/>
<line x1="1203" x2="1212" y1="489.5" y2="489.5" stroke="#000"/>
</g>
<path d="M1539.5,382.6 L1558.4,338.4" fill="none" stroke="#4d5a69" stroke-width="2" stroke-dasharray="2 2" marker-end="url(#mg)"/>
<path d="M1564.6,326.7 L1580.7,290" fill="none" stroke="#4d5a69" stroke-width="2" stroke-dasharray="2 2" marker-end="url(#mg)"/>
<path d="M1586.4,275.4 L1613,217.2" fill="none" stroke="#4d5a69" stroke-width="2" stroke-dasharray="2 2" marker-end="url(#mg)"/>
<path d="M1509.5,441.5 C1520,412 1528,402 1535,402.4 C1544,403 1551,420 1558,444 L1590.6,536.8" fill="none" stroke="#06b0dc" stroke-width="2" stroke-dasharray="2 2" marker-end="url(#mc)"/>
<path d="M1510.9,498.4 L1524.8,539.8" fill="none" stroke="#06b0dc" stroke-width="2" stroke-dasharray="2 2" marker-end="url(#mc)"/>
<path d="M1558.8,545.6 L1570.6,574.2" fill="none" stroke="#06b0dc" stroke-width="2" stroke-dasharray="2 2" marker-end="url(#mc)"/>
<path d="M1573.6,583.5 L1592.4,631" fill="none" stroke="#06b0dc" stroke-width="2" stroke-dasharray="2 2" marker-end="url(#mc)"/>
<path d="M1599.2,637.4 C1604,643 1608,646.5 1611.4,646 C1617,645 1621,638 1626,627 L1647.5,584" fill="none" stroke="#06b0dc" stroke-width="2" stroke-dasharray="2 2" marker-end="url(#mc)"/>
</g>
<text x="402.2" y="143.6" font-family="Liberation Sans, sans-serif" font-size="14" font-weight="bold" fill="#000" text-anchor="start" textLength="58.5" lengthAdjust="spacingAndGlyphs" >200 EMA</text>
<text x="367.5" y="231.2" font-family="Liberation Sans, sans-serif" font-size="14" font-weight="bold" fill="#00f030" text-anchor="start" textLength="58.3" lengthAdjust="spacingAndGlyphs" >100 EMA</text>
<text x="294.5" y="249.3" font-family="Liberation Sans, sans-serif" font-size="14" font-weight="bold" fill="#ff0000" text-anchor="start" textLength="50.3" lengthAdjust="spacingAndGlyphs" >50 EMA</text>
<text x="276.7" y="276.2" font-family="Liberation Sans, sans-serif" font-size="14" font-weight="bold" fill="#ffc000" text-anchor="start" textLength="49.6" lengthAdjust="spacingAndGlyphs" >21 EMA</text>
<text x="1783.8" y="199.2" font-family="Liberation Sans, sans-serif" font-size="14" font-weight="bold" fill="#4d5a69" text-anchor="start" textLength="52.6" lengthAdjust="spacingAndGlyphs" >~1.3475</text>
<text x="1783.2" y="278.6" font-family="Liberation Sans, sans-serif" font-size="14" font-weight="bold" fill="#4d5a69" text-anchor="start" textLength="52.6" lengthAdjust="spacingAndGlyphs" >~1.3365</text>
<text x="1783.2" y="329.2" font-family="Liberation Sans, sans-serif" font-size="14" font-weight="bold" fill="#4d5a69" text-anchor="start" textLength="52.6" lengthAdjust="spacingAndGlyphs" >~1.3295</text>
<text x="1782.6" y="381.8" font-family="Liberation Sans, sans-serif" font-size="14" font-weight="bold" fill="#4d5a69" text-anchor="start" textLength="52.6" lengthAdjust="spacingAndGlyphs" >~1.3220</text>
<text x="1788.3" y="484.2" font-family="Liberation Sans, sans-serif" font-size="14" font-weight="bold" fill="#06aedb" text-anchor="start" textLength="52.5" lengthAdjust="spacingAndGlyphs" >~1.3075</text>
<text x="1789" y="537.7" font-family="Liberation Sans, sans-serif" font-size="14" font-weight="bold" fill="#06aedb" text-anchor="start" textLength="52.5" lengthAdjust="spacingAndGlyphs" >~1.3000</text>
<text x="1788" y="570.7" font-family="Liberation Sans, sans-serif" font-size="14" font-weight="bold" fill="#06aedb" text-anchor="start" textLength="52.5" lengthAdjust="spacingAndGlyphs" >~1.2955</text>
<text x="1790.3" y="643.5" font-family="Liberation Sans, sans-serif" font-size="14" font-weight="bold" fill="#06aedb" text-anchor="start" textLength="52.5" lengthAdjust="spacingAndGlyphs" >~1.2850</text>
<rect x="4" y="21.5" width="229.6" height="36.3" fill="#fff"/>
<g filter="url(#idf)">
<path fill="url(#lg)" fill-rule="evenodd" d="M13.5,22 H20.35 V47.5 C20.35,53 17.3,55.8 12,55.8 H5.95 V50 H10.8 C12.8,50 13.5,49 13.5,46.8 Z M26,22 H47.9 V27.9 H32.9 V35.6 H43.8 V41.9 H32.9 V55.8 H26 Z M52,22 H64 C73.5,22 79,28 79,38.9 C79,49.8 73.5,55.8 64,55.8 H52 Z M58.6,27.8 V50 H63.3 C69.5,50 72.1,45.6 72.1,38.9 C72.1,32.2 69.5,27.8 63.3,27.8 Z"/>
<rect x="88.9" y="22" width="1" height="33.8" fill="#5a6470"/><rect x="87.4" y="33.1" width="3.6" height="11.9" rx="0.9" fill="#36404c"/>
<text x="99.5" y="44.5" font-family="Liberation Serif, serif" font-size="35.2" fill="url(#lg)" textLength="134" lengthAdjust="spacingAndGlyphs">BROKERS</text>
<text x="100.6" y="56.7" font-family="Liberation Serif, serif" font-size="10.8" fill="#4a5562" textLength="132.7" lengthAdjust="spacing">JUST FAIR &amp; DIRECT</text>
</g>
<path d="M6,9.5 h7 l-3.5,4 z" fill="#3a3a3a"/>
<text x="18.4" y="14" font-family="Liberation Sans, sans-serif" font-size="9.6" font-weight="normal" fill="#222" text-anchor="start" textLength="53.4" lengthAdjust="spacingAndGlyphs" >GBPUSD,H4</text>
<text x="78.4" y="14" font-family="Liberation Sans, sans-serif" font-size="9.6" font-weight="normal" fill="#222" text-anchor="start" textLength="140.6" lengthAdjust="spacingAndGlyphs" >1.31072 1.31119 1.31001 1.31046</text>
<g shape-rendering="crispEdges" stroke="#3f3f3f" fill="none">
<path d="M2.5,669.5V2.5H1873.5V669.5H2.5"/>
<path d="M2.5,796.5V671.5H1873.5V796.5H2.5"/>
<path d="M2.5,915.5V798.5H1873.5V915.5H2.5"/>
</g>
<g shape-rendering="crispEdges">
<rect x="1874" y="105" width="3" height="1" fill="#3f3f3f"/>
<rect x="1874" y="6" width="3" height="1" fill="#3f3f3f"/>
<rect x="1874" y="39" width="3" height="1" fill="#3f3f3f"/>
<rect x="1874" y="72" width="3" height="1" fill="#3f3f3f"/>
<rect x="1874" y="138" width="3" height="1" fill="#3f3f3f"/>
<rect x="1874" y="171" width="3" height="1" fill="#3f3f3f"/>
<rect x="1874" y="237" width="3" height="1" fill="#3f3f3f"/>
<rect x="1874" y="270" width="3" height="1" fill="#3f3f3f"/>
<rect x="1874" y="303" width="3" height="1" fill="#3f3f3f"/>
<rect x="1874" y="336" width="3" height="1" fill="#3f3f3f"/>
<rect x="1874" y="369" width="3" height="1" fill="#3f3f3f"/>
<rect x="1874" y="402" width="3" height="1" fill="#3f3f3f"/>
<rect x="1874" y="435" width="3" height="1" fill="#3f3f3f"/>
<rect x="1874" y="501" width="3" height="1" fill="#3f3f3f"/>
<rect x="1874" y="534" width="3" height="1" fill="#3f3f3f"/>
<rect x="1874" y="567" width="3" height="1" fill="#3f3f3f"/>
<rect x="1874" y="600" width="3" height="1" fill="#3f3f3f"/>
<rect x="1874" y="633" width="3" height="1" fill="#3f3f3f"/>
<rect x="1874" y="666" width="3" height="1" fill="#3f3f3f"/>
</g>
<text x="1879.6" y="108.9" font-family="Liberation Sans, sans-serif" font-size="9.6" font-weight="normal" fill="#222" text-anchor="start" textLength="32.5" lengthAdjust="spacingAndGlyphs" >1.36170</text>
<text x="1879.6" y="9.9" font-family="Liberation Sans, sans-serif" font-size="9.6" font-weight="normal" fill="#222" text-anchor="start" textLength="32.5" lengthAdjust="spacingAndGlyphs" >1.37560</text>
<text x="1879.6" y="42.9" font-family="Liberation Sans, sans-serif" font-size="9.6" font-weight="normal" fill="#222" text-anchor="start" textLength="32.5" lengthAdjust="spacingAndGlyphs" >1.37100</text>
<text x="1879.6" y="75.9" font-family="Liberation Sans, sans-serif" font-size="9.6" font-weight="normal" fill="#222" text-anchor="start" textLength="32.5" lengthAdjust="spacingAndGlyphs" >1.36630</text>
<text x="1879.6" y="141.9" font-family="Liberation Sans, sans-serif" font-size="9.6" font-weight="normal" fill="#222" text-anchor="start" textLength="32.5" lengthAdjust="spacingAndGlyphs" >1.35700</text>
<text x="1879.6" y="174.9" font-family="Liberation Sans, sans-serif" font-size="9.6" font-weight="normal" fill="#222" text-anchor="start" textLength="32.5" lengthAdjust="spacingAndGlyphs" >1.35240</text>
<text x="1879.6" y="240.9" font-family="Liberation Sans, sans-serif" font-size="9.6" font-weight="normal" fill="#222" text-anchor="start" textLength="32.5" lengthAdjust="spacingAndGlyphs" >1.34300</text>
<text x="1879.6" y="273.9" font-family="Liberation Sans, sans-serif" font-size="9.6" font-weight="normal" fill="#222" text-anchor="start" textLength="32.5" lengthAdjust="spacingAndGlyphs" >1.33840</text>
<text x="1879.6" y="306.9" font-family="Liberation Sans, sans-serif" font-size="9.6" font-weight="normal" fill="#222" text-anchor="start" textLength="32.5" lengthAdjust="spacingAndGlyphs" >1.33370</text>
<text x="1879.6" y="339.9" font-family="Liberation Sans, sans-serif" font-size="9.6" font-weight="normal" fill="#222" text-anchor="start" textLength="32.5" lengthAdjust="spacingAndGlyphs" >1.32910</text>
<text x="1879.6" y="372.9" font-family="Liberation Sans, sans-serif" font-size="9.6" font-weight="normal" fill="#222" text-anchor="start" textLength="32.5" lengthAdjust="spacingAndGlyphs" >1.32440</text>
<text x="1879.6" y="405.9" font-family="Liberation Sans, sans-serif" font-size="9.6" font-weight="normal" fill="#222" text-anchor="start" textLength="32.5" lengthAdjust="spacingAndGlyphs" >1.31980</text>
<text x="1879.6" y="438.9" font-family="Liberation Sans, sans-serif" font-size="9.6" font-weight="normal" fill="#222" text-anchor="start" textLength="32.5" lengthAdjust="spacingAndGlyphs" >1.31510</text>
<text x="1879.6" y="504.9" font-family="Liberation Sans, sans-serif" font-size="9.6" font-weight="normal" fill="#222" text-anchor="start" textLength="32.5" lengthAdjust="spacingAndGlyphs" >1.30580</text>
<text x="1879.6" y="537.9" font-family="Liberation Sans, sans-serif" font-size="9.6" font-weight="normal" fill="#222" text-anchor="start" textLength="32.5" lengthAdjust="spacingAndGlyphs" >1.30120</text>
<text x="1879.6" y="570.9" font-family="Liberation Sans, sans-serif" font-size="9.6" font-weight="normal" fill="#222" text-anchor="start" textLength="32.5" lengthAdjust="spacingAndGlyphs" >1.29650</text>
<text x="1879.6" y="603.9" font-family="Liberation Sans, sans-serif" font-size="9.6" font-weight="normal" fill="#222" text-anchor="start" textLength="32.5" lengthAdjust="spacingAndGlyphs" >1.29180</text>
<text x="1879.6" y="636.9" font-family="Liberation Sans, sans-serif" font-size="9.6" font-weight="normal" fill="#222" text-anchor="start" textLength="32.5" lengthAdjust="spacingAndGlyphs" >1.28720</text>
<text x="1879.6" y="669.9" font-family="Liberation Sans, sans-serif" font-size="9.6" font-weight="normal" fill="#222" text-anchor="start" textLength="32.5" lengthAdjust="spacingAndGlyphs" >1.28250</text>
<g shape-rendering="crispEdges">
<rect x="1875" y="463" width="41" height="11" fill="#404040"/>
<rect x="1875" y="97" width="41" height="11" fill="#000"/>
<rect x="1875" y="200" width="41" height="11" fill="#000"/>
<rect x="1875" y="278" width="41" height="11" fill="#000"/>
<rect x="1875" y="327" width="41" height="11" fill="#000"/>
<rect x="1875" y="380" width="41" height="11" fill="#000"/>
<rect x="1875" y="483" width="41" height="11" fill="#000"/>
<rect x="1875" y="536" width="41" height="11" fill="#000"/>
<rect x="1875" y="568" width="41" height="11" fill="#000"/>
<rect x="1875" y="643" width="41" height="11" fill="#000"/>
</g>
<text x="1879.6" y="471.6" font-family="Liberation Sans, sans-serif" font-size="9.6" font-weight="normal" fill="#fff" text-anchor="start" textLength="32.5" lengthAdjust="spacingAndGlyphs" >1.31046</text>
<text x="1879.6" y="105.6" font-family="Liberation Sans, sans-serif" font-size="9.6" font-weight="normal" fill="#fff" text-anchor="start" textLength="32.5" lengthAdjust="spacingAndGlyphs" >1.36200</text>
<text x="1879.6" y="208.6" font-family="Liberation Sans, sans-serif" font-size="9.6" font-weight="normal" fill="#fff" text-anchor="start" textLength="32.5" lengthAdjust="spacingAndGlyphs" >1.34750</text>
<text x="1879.6" y="286.6" font-family="Liberation Sans, sans-serif" font-size="9.6" font-weight="normal" fill="#fff" text-anchor="start" textLength="32.5" lengthAdjust="spacingAndGlyphs" >1.33650</text>
<text x="1879.6" y="335.6" font-family="Liberation Sans, sans-serif" font-size="9.6" font-weight="normal" fill="#fff" text-anchor="start" textLength="32.5" lengthAdjust="spacingAndGlyphs" >1.32950</text>
<text x="1879.6" y="388.6" font-family="Liberation Sans, sans-serif" font-size="9.6" font-weight="normal" fill="#fff" text-anchor="start" textLength="32.5" lengthAdjust="spacingAndGlyphs" >1.32200</text>
<text x="1879.6" y="491.6" font-family="Liberation Sans, sans-serif" font-size="9.6" font-weight="normal" fill="#fff" text-anchor="start" textLength="32.5" lengthAdjust="spacingAndGlyphs" >1.30750</text>
<text x="1879.6" y="544.6" font-family="Liberation Sans, sans-serif" font-size="9.6" font-weight="normal" fill="#fff" text-anchor="start" textLength="32.5" lengthAdjust="spacingAndGlyphs" >1.30000</text>
<text x="1879.6" y="576.6" font-family="Liberation Sans, sans-serif" font-size="9.6" font-weight="normal" fill="#fff" text-anchor="start" textLength="32.5" lengthAdjust="spacingAndGlyphs" >1.29550</text>
<text x="1879.6" y="651.6" font-family="Liberation Sans, sans-serif" font-size="9.6" font-weight="normal" fill="#fff" text-anchor="start" textLength="32.5" lengthAdjust="spacingAndGlyphs" >1.28500</text>
<g clip-path="url(#cr)">
<line x1="4" x2="1873" y1="697.5" y2="697.5" stroke="#c0c0c0" stroke-dasharray="3 3" shape-rendering="crispEdges"/>
<line x1="4" x2="1873" y1="771.5" y2="771.5" stroke="#c0c0c0" stroke-dasharray="3 3" shape-rendering="crispEdges"/>
<polyline points="3.5,752.0 7.5,740.8 11.5,741.2 15.5,739.5 19.5,742.0 23.5,731.2 27.5,734.6 31.5,735.9 35.5,737.1 39.5,735.4 43.5,731.2 47.5,735.3 51.5,728.2 55.5,727.4 59.5,732.7 63.5,734.4 67.5,733.3 71.5,735.2 75.5,738.7 79.5,747.0 83.5,743.8 87.5,745.9 91.5,745.3 95.5,742.2 99.5,749.1 103.5,746.1 107.5,745.7 111.5,734.6 115.5,727.1 119.5,734.9 123.5,741.2 127.5,739.3 131.5,738.5 135.5,735.7 139.5,737.3 143.5,735.8 147.5,743.7 151.5,745.4 155.5,742.9 159.5,745.3 163.5,744.2 167.5,753.1 171.5,756.0 175.5,758.1 179.5,754.7 183.5,753.2 187.5,746.8 191.5,750.1 195.5,749.1 199.5,737.7 203.5,745.6 207.5,743.3 211.5,741.8 215.5,747.4 219.5,750.2 223.5,758.3 227.5,759.6 231.5,757.3 235.5,753.9 239.5,752.3 243.5,751.2 247.5,737.1 251.5,743.7 255.5,741.4 259.5,741.7 263.5,745.2 267.5,748.2 271.5,752.2 275.5,756.8 279.5,754.6 283.5,759.5 287.5,753.6 291.5,753.2 295.5,750.1 299.5,745.5 303.5,744.7 307.5,753.2 311.5,747.4 315.5,747.5 319.5,745.7 323.5,753.0 327.5,760.3 331.5,751.2 335.5,756.0 339.5,752.7 343.5,753.8 347.5,745.8 351.5,744.5 355.5,744.9 359.5,743.5 363.5,741.7 367.5,737.0 371.5,731.1 375.5,726.7 379.5,734.0 383.5,740.0 387.5,736.1 391.5,744.7 395.5,741.7 399.5,728.3 403.5,726.6 407.5,723.1 411.5,723.3 415.5,723.7 419.5,717.6 423.5,721.5 427.5,715.7 431.5,732.6 435.5,736.4 439.5,736.9 443.5,739.1 447.5,732.8 451.5,725.3 455.5,730.6 459.5,720.0 463.5,718.5 467.5,717.5 471.5,719.0 475.5,716.3 479.5,714.1 483.5,720.6 487.5,718.5 491.5,717.4 495.5,713.9 499.5,712.5 503.5,723.9 507.5,722.3 511.5,723.3 515.5,724.3 519.5,725.5 523.5,735.1 527.5,731.2 531.5,728.2 535.5,729.9 539.5,730.4 543.5,728.1 547.5,723.4 551.5,746.0 555.5,735.1 559.5,738.3 563.5,738.8 567.5,742.2 571.5,745.6 575.5,734.0 579.5,742.9 583.5,736.8 587.5,738.1 591.5,739.6 595.5,741.4 599.5,747.2 603.5,736.9 607.5,738.8 611.5,733.4 615.5,731.8 619.5,727.5 623.5,721.2 627.5,743.4 631.5,750.7 635.5,752.1 639.5,754.3 643.5,755.9 647.5,744.4 651.5,745.0 655.5,745.8 659.5,746.0 663.5,747.5 667.5,748.5 671.5,752.1 675.5,748.4 679.5,751.5 683.5,751.6 687.5,749.8 691.5,742.9 695.5,753.4 699.5,759.1 703.5,759.2 707.5,759.6 711.5,758.9 715.5,760.1 719.5,761.5 723.5,760.2 727.5,753.1 731.5,748.5 735.5,752.0 739.5,753.8 743.5,760.4 747.5,758.1 751.5,725.2 755.5,726.0 759.5,728.1 763.5,726.2 767.5,720.2 771.5,718.0 775.5,725.9 779.5,728.3 783.5,728.5 787.5,726.5 791.5,731.1 795.5,735.0 799.5,730.4 803.5,727.5 807.5,725.2 811.5,724.5 815.5,723.0 819.5,729.0 823.5,737.8 827.5,740.1 831.5,739.1 835.5,742.4 839.5,742.6 843.5,738.2 847.5,745.7 851.5,758.0 855.5,761.0 859.5,762.3 863.5,762.4 867.5,767.9 871.5,759.6 875.5,759.9 879.5,764.6 883.5,760.2 887.5,748.9 891.5,749.8 895.5,739.8 899.5,726.2 903.5,729.3 907.5,726.0 911.5,726.8 915.5,732.8 919.5,732.2 923.5,736.5 927.5,745.1 931.5,744.3 935.5,739.8 939.5,743.0 943.5,738.0 947.5,728.7 951.5,731.4 955.5,728.1 959.5,727.6 963.5,723.9 967.5,720.9 971.5,725.1 975.5,725.8 979.5,719.8 983.5,721.9 987.5,721.5 991.5,719.1 995.5,718.2 999.5,726.2 1003.5,729.9 1007.5,727.5 1011.5,730.9 1015.5,722.7 1019.5,725.8 1023.5,715.3 1027.5,719.3 1031.5,715.6 1035.5,712.3 1039.5,715.0 1043.5,712.1 1047.5,707.7 1051.5,730.9 1055.5,732.3 1059.5,733.3 1063.5,732.7 1067.5,732.1 1071.5,738.7 1075.5,729.7 1079.5,729.4 1083.5,731.1 1087.5,731.2 1091.5,729.5 1095.5,736.0 1099.5,734.1 1103.5,745.6 1107.5,746.3 1111.5,748.9 1115.5,740.7 1119.5,745.1 1123.5,738.0 1127.5,742.0 1131.5,747.3 1135.5,747.9 1139.5,753.6 1143.5,758.8 1147.5,737.4 1151.5,731.6 1155.5,729.8 1159.5,731.5 1163.5,730.3 1167.5,727.1 1171.5,721.2 1175.5,733.3 1179.5,732.8 1183.5,731.7 1187.5,733.2 1191.5,727.1 1195.5,731.9 1199.5,748.3 1203.5,753.2 1207.5,754.7 1211.5,755.1 1215.5,757.7 1219.5,764.6 1223.5,758.9 1227.5,755.9 1231.5,752.2 1235.5,752.4 1239.5,756.2 1243.5,763.7 1247.5,758.4 1251.5,755.0 1255.5,755.2 1259.5,754.9 1263.5,753.6 1267.5,749.6 1271.5,732.4 1275.5,726.3 1279.5,728.0 1283.5,728.5 1287.5,725.6 1291.5,725.4 1295.5,727.6 1299.5,725.4 1303.5,734.1 1307.5,736.9 1311.5,736.0 1315.5,736.6 1319.5,743.5 1323.5,727.9 1327.5,723.7 1331.5,727.9 1335.5,727.2 1339.5,726.0 1343.5,721.1 1347.5,724.5 1351.5,727.9 1355.5,722.3 1359.5,718.6 1363.5,716.5 1367.5,719.6 1371.5,725.7 1375.5,733.2 1379.5,742.7 1383.5,743.6 1387.5,742.4 1391.5,746.0 1395.5,745.2 1399.5,735.6 1403.5,739.7 1407.5,743.9 1411.5,739.4 1415.5,741.9 1419.5,737.8 1423.5,739.2 1427.5,728.6 1431.5,731.7 1435.5,731.2 1439.5,735.6 1443.5,731.3 1447.5,724.2 1451.5,737.6 1455.5,734.8 1459.5,737.5 1463.5,738.9 1467.5,737.6 1471.5,733.2 1475.5,735.3 1479.5,732.7 1483.5,734.1 1487.5,740.0 1491.5,740.7" fill="none" stroke="#06aedb" stroke-width="1" shape-rendering="crispEdges" />
</g>
<text x="7.4" y="684" font-family="Liberation Sans, sans-serif" font-size="9.6" font-weight="normal" fill="#222" text-anchor="start" textLength="67.6" lengthAdjust="spacingAndGlyphs" >RSI(14) 44.5074</text>
<text x="1877" y="681.3" font-family="Liberation Sans, sans-serif" font-size="9.6" font-weight="normal" fill="#222" text-anchor="start" >100</text>
<text x="1877" y="701.0" font-family="Liberation Sans, sans-serif" font-size="9.6" font-weight="normal" fill="#222" text-anchor="start" >80</text>
<text x="1877" y="775.0" font-family="Liberation Sans, sans-serif" font-size="9.6" font-weight="normal" fill="#222" text-anchor="start" >20</text>
<text x="1877" y="793.0" font-family="Liberation Sans, sans-serif" font-size="9.6" font-weight="normal" fill="#222" text-anchor="start" >0</text>
<g clip-path="url(#cd)">
<path d="M3.5,844V862M7.5,844V863M11.5,844V863M15.5,844V862M19.5,844V863M23.5,844V857M27.5,844V855M31.5,844V853M35.5,844V853M39.5,844V851M43.5,844V848M47.5,844V847M51.5,844V845M55.5,840V845M59.5,840V845M63.5,840V845M67.5,840V845M71.5,841V845M75.5,843V845M79.5,844V848M83.5,844V852M87.5,844V856M91.5,844V858M95.5,844V859M99.5,844V863M103.5,844V865M107.5,844V866M111.5,844V862M115.5,844V856M119.5,844V854M123.5,844V856M127.5,844V856M131.5,844V856M135.5,844V855M139.5,844V854M143.5,844V853M147.5,844V855M151.5,844V858M155.5,844V859M159.5,844V861M163.5,844V861M167.5,844V866M171.5,844V871M175.5,844V876M179.5,844V878M183.5,844V880M187.5,844V878M191.5,844V879M195.5,844V878M199.5,844V874M203.5,844V874M207.5,844V872M211.5,844V870M215.5,844V871M219.5,844V872M223.5,844V878M227.5,844V882M231.5,844V885M235.5,844V886M239.5,844V885M243.5,844V884M247.5,844V879M251.5,844V877M255.5,844V874M259.5,844V872M263.5,844V871M267.5,844V872M271.5,844V873M275.5,844V877M279.5,844V878M283.5,844V882M287.5,844V883M291.5,844V883M295.5,844V882M299.5,844V879M303.5,844V877M307.5,844V878M311.5,844V877M315.5,844V876M319.5,844V874M323.5,844V875M327.5,844V879M331.5,844V880M335.5,844V883M339.5,844V883M343.5,844V884M347.5,844V882M351.5,844V879M355.5,844V877M359.5,844V875M363.5,844V872M367.5,844V868M371.5,844V863M375.5,844V858M379.5,844V856M383.5,844V855M387.5,844V854M391.5,844V856M395.5,844V856M399.5,844V852M403.5,844V848M407.5,844V845M411.5,841V845M415.5,838V845M419.5,833V845M423.5,831V845M427.5,827V845M431.5,829V845M435.5,832V845M439.5,835V845M443.5,838V845M447.5,839V845M451.5,836V845M455.5,836V845M459.5,831V845M463.5,826V845M467.5,822V845M471.5,820V845M475.5,817V845M479.5,814V845M483.5,813V845M487.5,813V845M491.5,812V845M495.5,810V845M499.5,808V845M503.5,810V845M507.5,811V845M511.5,813V845M515.5,815V845M519.5,817V845M523.5,822V845M527.5,825V845M531.5,826V845M535.5,828V845M539.5,829V845M543.5,830V845M547.5,830V845M551.5,836V845M555.5,838V845M559.5,841V845M563.5,843V845M567.5,844V845M571.5,844V849M575.5,844V848M579.5,844V851M583.5,844V851M587.5,844V851M591.5,844V852M595.5,844V854M599.5,844V857M603.5,844V856M607.5,844V856M611.5,844V854M615.5,844V851M619.5,844V847M623.5,843V845M627.5,844V847M631.5,844V856M635.5,844V864M639.5,844V871M643.5,844V878M647.5,844V878M651.5,844V879M655.5,844V879M659.5,844V879M663.5,844V879M667.5,844V879M671.5,844V881M675.5,844V881M679.5,844V882M683.5,844V883M687.5,844V882M691.5,844V879M695.5,844V882M699.5,844V887M703.5,844V891M707.5,844V893M711.5,844V895M715.5,844V896M719.5,844V897M723.5,844V897M727.5,844V895M731.5,844V891M735.5,844V890M739.5,844V888M743.5,844V890M747.5,844V891M751.5,844V879M755.5,844V869M759.5,844V863M763.5,844V856M767.5,844V848M771.5,841V845M775.5,838V845M779.5,836V845M783.5,835V845M787.5,833V845M791.5,834V845M795.5,836V845M799.5,836V845M803.5,835V845M807.5,833V845M811.5,831V845M815.5,830V845M819.5,830V845M823.5,834V845M827.5,838V845M831.5,840V845M835.5,844V845M839.5,844V845M843.5,844V846M847.5,844V849M851.5,844V858M855.5,844V866M859.5,844V873M863.5,844V878M867.5,844V886M871.5,844V889M875.5,844V891M879.5,844V896M883.5,844V898M887.5,844V895M891.5,844V893M895.5,844V888M899.5,844V877M903.5,844V869M907.5,844V861M911.5,844V855M915.5,844V853M919.5,844V850M923.5,844V850M927.5,844V854M931.5,844V857M935.5,844V857M939.5,844V858M943.5,844V857M947.5,844V853M951.5,844V850M955.5,844V846M959.5,844V845M963.5,840V845M967.5,836V845M971.5,834V845M975.5,832V845M979.5,829V845M983.5,827V845M987.5,825V845M991.5,823V845M995.5,822V845M999.5,823V845M1003.5,825V845M1007.5,826V845M1011.5,828V845M1015.5,827V845M1019.5,827V845M1023.5,823V845M1027.5,821V845M1031.5,818V845M1035.5,814V845M1039.5,812V845M1043.5,810V845M1047.5,806V845M1051.5,810V845M1055.5,815V845M1059.5,819V845M1063.5,823V845M1067.5,826V845M1071.5,830V845M1075.5,831V845M1079.5,831V845M1083.5,832V845M1087.5,833V845M1091.5,834V845M1095.5,836V845M1099.5,837V845M1103.5,843V845M1107.5,844V846M1111.5,844V850M1115.5,844V852M1119.5,844V854M1123.5,844V854M1127.5,844V855M1131.5,844V858M1135.5,844V860M1139.5,844V865M1143.5,844V871M1147.5,844V868M1151.5,844V863M1155.5,844V858M1159.5,844V854M1163.5,844V851M1167.5,844V847M1171.5,842V845M1175.5,842V845M1179.5,842V845M1183.5,841V845M1187.5,841V845M1191.5,839V845M1195.5,839V845M1199.5,844V846M1203.5,844V855M1207.5,844V864M1211.5,844V870M1215.5,844V877M1219.5,844V888M1223.5,844V894M1227.5,844V897M1231.5,844V897M1235.5,844V897M1239.5,844V899M1243.5,844V906M1247.5,844V909M1251.5,844V909M1255.5,844V908M1259.5,844V907M1263.5,844V905M1267.5,844V902M1271.5,844V892M1275.5,844V880M1279.5,844V871M1283.5,844V864M1287.5,844V857M1291.5,844V851M1295.5,844V847M1299.5,844V845M1303.5,844V845M1307.5,844V845M1311.5,844V845M1315.5,844V845M1319.5,844V848M1323.5,844V845M1327.5,841V845M1331.5,839V845M1335.5,837V845M1339.5,835V845M1343.5,831V845M1347.5,830V845M1351.5,830V845M1355.5,827V845M1359.5,824V845M1363.5,820V845M1367.5,819V845M1371.5,820V845M1375.5,823V845M1379.5,830V845M1383.5,836V845M1387.5,841V845M1391.5,844V845M1395.5,844V848M1399.5,844V848M1403.5,844V849M1407.5,844V852M1411.5,844V853M1415.5,844V854M1419.5,844V854M1423.5,844V854M1427.5,844V850M1431.5,844V848M1435.5,844V846M1439.5,844V847M1443.5,844V845M1447.5,842V845M1451.5,844V845M1455.5,844V845M1459.5,844V845M1463.5,844V846M1467.5,844V847M1471.5,844V846M1475.5,844V846M1479.5,844V845M1483.5,844V845M1487.5,844V847M1491.5,844V848" stroke="#06aedb" stroke-width="1" shape-rendering="crispEdges"/>
<polyline points="3.5,863.7 7.5,863.6 11.5,863.5 15.5,863.4 19.5,863.3 23.5,862.6 27.5,861.6 31.5,860.4 35.5,859.2 39.5,858.0 43.5,856.4 47.5,854.6 51.5,852.4 55.5,849.8 59.5,847.7 63.5,845.9 67.5,844.3 71.5,842.9 75.5,841.8 79.5,841.9 83.5,842.4 87.5,843.8 91.5,845.9 95.5,848.2 99.5,850.9 103.5,853.8 107.5,856.8 111.5,859.0 115.5,859.9 119.5,860.2 123.5,860.2 127.5,860.0 131.5,859.7 135.5,858.7 139.5,857.5 143.5,856.0 147.5,855.2 151.5,855.5 155.5,856.0 159.5,856.5 163.5,857.1 167.5,858.2 171.5,860.1 175.5,862.6 179.5,865.4 183.5,868.2 187.5,870.5 191.5,872.7 195.5,874.7 199.5,876.1 203.5,877.0 207.5,877.1 211.5,876.5 215.5,875.6 219.5,874.8 223.5,874.7 227.5,875.1 231.5,875.9 235.5,877.2 239.5,878.5 243.5,879.9 247.5,880.8 251.5,881.5 255.5,881.7 259.5,881.1 263.5,879.8 267.5,878.3 271.5,876.9 275.5,875.9 279.5,875.3 283.5,875.6 287.5,876.3 291.5,877.2 295.5,878.3 299.5,879.2 303.5,879.8 307.5,880.3 311.5,880.3 315.5,880.0 319.5,879.1 323.5,878.3 327.5,877.9 331.5,877.7 335.5,878.0 339.5,878.8 343.5,879.5 347.5,880.1 351.5,880.5 355.5,880.9 359.5,880.8 363.5,880.0 367.5,878.6 371.5,876.5 375.5,873.6 379.5,870.4 383.5,867.4 387.5,864.6 391.5,862.2 395.5,860.1 399.5,857.9 403.5,855.6 407.5,853.4 411.5,851.3 415.5,849.2 419.5,846.6 423.5,843.8 427.5,840.4 431.5,837.2 435.5,834.8 439.5,833.3 443.5,832.6 447.5,832.4 451.5,832.2 455.5,832.5 459.5,832.6 463.5,832.5 467.5,831.8 471.5,830.5 475.5,828.4 479.5,825.7 483.5,822.9 487.5,820.3 491.5,817.6 495.5,815.2 499.5,813.2 503.5,811.8 507.5,810.9 511.5,810.4 515.5,810.6 519.5,811.0 523.5,812.0 527.5,813.4 531.5,815.2 535.5,817.4 539.5,819.6 543.5,821.7 547.5,823.5 551.5,825.9 555.5,828.2 559.5,830.4 563.5,832.4 567.5,834.7 571.5,837.2 575.5,839.4 579.5,841.8 583.5,844.3 587.5,846.1 591.5,847.9 595.5,849.4 599.5,851.1 603.5,852.4 607.5,853.2 611.5,853.8 615.5,853.8 619.5,853.4 623.5,852.3 627.5,851.7 631.5,851.9 635.5,852.7 639.5,854.4 643.5,856.9 647.5,859.6 651.5,862.7 655.5,866.3 659.5,870.4 663.5,874.1 667.5,876.7 671.5,878.7 675.5,879.9 679.5,880.3 683.5,880.8 687.5,881.3 691.5,881.3 695.5,881.7 699.5,882.6 703.5,883.9 707.5,885.3 711.5,886.8 715.5,888.3 719.5,890.0 723.5,891.6 727.5,893.4 731.5,894.5 735.5,894.8 739.5,894.5 743.5,894.1 747.5,893.7 751.5,891.8 755.5,888.6 759.5,884.7 763.5,880.3 767.5,875.4 771.5,869.8 775.5,863.9 779.5,857.7 783.5,851.3 787.5,846.0 791.5,841.9 795.5,838.8 799.5,836.4 803.5,834.8 807.5,833.9 811.5,833.1 815.5,832.4 819.5,831.9 823.5,831.9 827.5,832.3 831.5,832.8 835.5,833.7 839.5,835.0 843.5,836.6 847.5,838.8 851.5,842.1 855.5,846.2 859.5,850.7 863.5,855.4 867.5,860.7 871.5,865.9 875.5,871.2 879.5,876.8 883.5,882.2 887.5,886.5 891.5,889.5 895.5,891.2 899.5,891.0 903.5,889.2 907.5,886.0 911.5,881.9 915.5,877.1 919.5,871.7 923.5,866.7 927.5,862.2 931.5,858.7 935.5,856.5 939.5,855.2 943.5,854.8 947.5,854.5 951.5,854.2 955.5,853.8 959.5,853.0 963.5,851.4 967.5,848.9 971.5,846.2 975.5,843.2 979.5,839.8 983.5,836.8 987.5,833.9 991.5,831.2 995.5,828.7 999.5,826.7 1003.5,825.5 1007.5,824.6 1011.5,824.1 1015.5,823.9 1019.5,823.9 1023.5,823.6 1027.5,823.4 1031.5,823.0 1035.5,822.0 1039.5,820.7 1043.5,818.9 1047.5,816.4 1051.5,814.6 1055.5,813.3 1059.5,812.9 1063.5,813.1 1067.5,813.9 1071.5,815.7 1075.5,817.8 1079.5,820.1 1083.5,823.1 1087.5,825.6 1091.5,827.7 1095.5,829.6 1099.5,831.2 1103.5,833.1 1107.5,835.0 1111.5,837.3 1115.5,839.7 1119.5,842.3 1123.5,844.7 1127.5,847.2 1131.5,849.8 1135.5,852.5 1139.5,855.1 1143.5,857.8 1147.5,859.8 1151.5,861.1 1155.5,861.5 1159.5,861.6 1163.5,861.1 1167.5,859.9 1171.5,857.7 1175.5,855.1 1179.5,851.7 1183.5,848.6 1187.5,846.0 1191.5,843.8 1195.5,842.0 1199.5,841.4 1203.5,842.3 1207.5,844.9 1211.5,848.2 1215.5,852.3 1219.5,857.7 1223.5,863.7 1227.5,870.3 1231.5,877.0 1235.5,882.8 1239.5,887.7 1243.5,892.4 1247.5,896.7 1251.5,900.3 1255.5,902.6 1259.5,904.2 1263.5,905.1 1267.5,905.6 1271.5,905.0 1275.5,902.9 1279.5,899.0 1283.5,894.0 1287.5,888.2 1291.5,881.7 1295.5,875.0 1299.5,868.0 1303.5,861.4 1307.5,856.1 1311.5,852.1 1315.5,849.2 1319.5,847.4 1323.5,846.0 1327.5,844.7 1331.5,843.6 1335.5,842.8 1339.5,841.7 1343.5,840.1 1347.5,838.3 1351.5,836.4 1355.5,834.0 1359.5,831.5 1363.5,829.2 1367.5,827.0 1371.5,825.1 1375.5,823.8 1379.5,823.7 1383.5,824.4 1387.5,825.7 1391.5,827.7 1395.5,830.6 1399.5,833.8 1403.5,837.3 1407.5,841.0 1411.5,844.4 1415.5,847.2 1419.5,849.3 1423.5,850.9 1427.5,851.5 1431.5,851.5 1435.5,851.3 1439.5,851.0 1443.5,850.2 1447.5,848.9 1451.5,847.7 1455.5,846.5 1459.5,845.5 1463.5,845.0 1467.5,844.9 1471.5,844.9 1475.5,844.8 1479.5,844.8 1483.5,845.2 1487.5,845.6 1491.5,846.1" fill="none" stroke="#000" stroke-width="1" shape-rendering="crispEdges" />
</g>
<text x="7" y="811" font-family="Liberation Sans, sans-serif" font-size="9.6" font-weight="normal" fill="#222" text-anchor="start" textLength="153" lengthAdjust="spacingAndGlyphs" >MACD(12,26,9) -0.000338 -0.000174</text>
<text x="1877" y="808.2" font-family="Liberation Sans, sans-serif" font-size="9.6" font-weight="normal" fill="#222" text-anchor="start" textLength="38.1" lengthAdjust="spacingAndGlyphs" >0.003619</text>
<text x="1877" y="848.0" font-family="Liberation Sans, sans-serif" font-size="9.6" font-weight="normal" fill="#222" text-anchor="start" textLength="18" lengthAdjust="spacingAndGlyphs" >0.00</text>
<text x="1877" y="911.7" font-family="Liberation Sans, sans-serif" font-size="9.6" font-weight="normal" fill="#222" text-anchor="start" textLength="41.6" lengthAdjust="spacingAndGlyphs" >-0.005798</text>
<rect x="1874" y="844" width="2" height="1" fill="#3f3f3f" shape-rendering="crispEdges"/>
<g shape-rendering="crispEdges">
<rect x="3" y="916" width="1" height="4" fill="#3f3f3f"/>
<rect x="67" y="916" width="1" height="4" fill="#3f3f3f"/>
<rect x="131" y="916" width="1" height="4" fill="#3f3f3f"/>
<rect x="195" y="916" width="1" height="4" fill="#3f3f3f"/>
<rect x="259" y="916" width="1" height="4" fill="#3f3f3f"/>
<rect x="323" y="916" width="1" height="4" fill="#3f3f3f"/>
<rect x="387" y="916" width="1" height="4" fill="#3f3f3f"/>
<rect x="451" y="916" width="1" height="4" fill="#3f3f3f"/>
<rect x="515" y="916" width="1" height="4" fill="#3f3f3f"/>
<rect x="579" y="916" width="1" height="4" fill="#3f3f3f"/>
<rect x="643" y="916" width="1" height="4" fill="#3f3f3f"/>
<rect x="707" y="916" width="1" height="4" fill="#3f3f3f"/>
<rect x="771" y="916" width="1" height="4" fill="#3f3f3f"/>
<rect x="835" y="916" width="1" height="4" fill="#3f3f3f"/>
<rect x="899" y="916" width="1" height="4" fill="#3f3f3f"/>
<rect x="963" y="916" width="1" height="4" fill="#3f3f3f"/>
<rect x="1027" y="916" width="1" height="4" fill="#3f3f3f"/>
<rect x="1091" y="916" width="1" height="4" fill="#3f3f3f"/>
<rect x="1155" y="916" width="1" height="4" fill="#3f3f3f"/>
<rect x="1219" y="916" width="1" height="4" fill="#3f3f3f"/>
<rect x="1283" y="916" width="1" height="4" fill="#3f3f3f"/>
<rect x="1347" y="916" width="1" height="4" fill="#3f3f3f"/>
<rect x="1411" y="916" width="1" height="4" fill="#3f3f3f"/>
<rect x="1475" y="916" width="1" height="4" fill="#3f3f3f"/>
</g>
<text x="3" y="928" font-family="Liberation Sans, sans-serif" font-size="9.6" font-weight="normal" fill="#222" text-anchor="start" textLength="54.4" lengthAdjust="spacingAndGlyphs" >10 May 2018</text>
<text x="67" y="928" font-family="Liberation Sans, sans-serif" font-size="9.6" font-weight="normal" fill="#222" text-anchor="start" textLength="57.1" lengthAdjust="spacingAndGlyphs" >15 May 00:00</text>
<text x="131" y="928" font-family="Liberation Sans, sans-serif" font-size="9.6" font-weight="normal" fill="#222" text-anchor="start" textLength="57.1" lengthAdjust="spacingAndGlyphs" >17 May 16:00</text>
<text x="195" y="928" font-family="Liberation Sans, sans-serif" font-size="9.6" font-weight="normal" fill="#222" text-anchor="start" textLength="57.1" lengthAdjust="spacingAndGlyphs" >22 May 04:00</text>
<text x="259" y="928" font-family="Liberation Sans, sans-serif" font-size="9.6" font-weight="normal" fill="#222" text-anchor="start" textLength="57.1" lengthAdjust="spacingAndGlyphs" >24 May 20:00</text>
<text x="323" y="928" font-family="Liberation Sans, sans-serif" font-size="9.6" font-weight="normal" fill="#222" text-anchor="start" textLength="57.1" lengthAdjust="spacingAndGlyphs" >29 May 04:00</text>
<text x="387" y="928" font-family="Liberation Sans, sans-serif" font-size="9.6" font-weight="normal" fill="#222" text-anchor="start" textLength="57.1" lengthAdjust="spacingAndGlyphs" >31 May 20:00</text>
<text x="451" y="928" font-family="Liberation Sans, sans-serif" font-size="9.6" font-weight="normal" fill="#222" text-anchor="start" textLength="47.4" lengthAdjust="spacingAndGlyphs" >5 Jun 08:00</text>
<text x="515" y="928" font-family="Liberation Sans, sans-serif" font-size="9.6" font-weight="normal" fill="#222" text-anchor="start" textLength="47.4" lengthAdjust="spacingAndGlyphs" >8 Jun 00:00</text>
<text x="579" y="928" font-family="Liberation Sans, sans-serif" font-size="9.6" font-weight="normal" fill="#222" text-anchor="start" textLength="52.7" lengthAdjust="spacingAndGlyphs" >12 Jun 12:00</text>
<text x="643" y="928" font-family="Liberation Sans, sans-serif" font-size="9.6" font-weight="normal" fill="#222" text-anchor="start" textLength="52.7" lengthAdjust="spacingAndGlyphs" >15 Jun 04:00</text>
<text x="707" y="928" font-family="Liberation Sans, sans-serif" font-size="9.6" font-weight="normal" fill="#222" text-anchor="start" textLength="52.7" lengthAdjust="spacingAndGlyphs" >19 Jun 16:00</text>
<text x="771" y="928" font-family="Liberation Sans, sans-serif" font-size="9.6" font-weight="normal" fill="#222" text-anchor="start" textLength="52.7" lengthAdjust="spacingAndGlyphs" >22 Jun 08:00</text>
<text x="835" y="928" font-family="Liberation Sans, sans-serif" font-size="9.6" font-weight="normal" fill="#222" text-anchor="start" textLength="52.7" lengthAdjust="spacingAndGlyphs" >26 Jun 20:00</text>
<text x="899" y="928" font-family="Liberation Sans, sans-serif" font-size="9.6" font-weight="normal" fill="#222" text-anchor="start" textLength="52.7" lengthAdjust="spacingAndGlyphs" >29 Jun 12:00</text>
<text x="963" y="928" font-family="Liberation Sans, sans-serif" font-size="9.6" font-weight="normal" fill="#222" text-anchor="start" textLength="44.0" lengthAdjust="spacingAndGlyphs" >4 Jul 00:00</text>
<text x="1027" y="928" font-family="Liberation Sans, sans-serif" font-size="9.6" font-weight="normal" fill="#222" text-anchor="start" textLength="44.0" lengthAdjust="spacingAndGlyphs" >6 Jul 16:00</text>
<text x="1091" y="928" font-family="Liberation Sans, sans-serif" font-size="9.6" font-weight="normal" fill="#222" text-anchor="start" textLength="49.3" lengthAdjust="spacingAndGlyphs" >11 Jul 04:00</text>
<text x="1155" y="928" font-family="Liberation Sans, sans-serif" font-size="9.6" font-weight="normal" fill="#222" text-anchor="start" textLength="49.3" lengthAdjust="spacingAndGlyphs" >13 Jul 20:00</text>
<text x="1219" y="928" font-family="Liberation Sans, sans-serif" font-size="9.6" font-weight="normal" fill="#222" text-anchor="start" textLength="49.3" lengthAdjust="spacingAndGlyphs" >18 Jul 08:00</text>
<text x="1283" y="928" font-family="Liberation Sans, sans-serif" font-size="9.6" font-weight="normal" fill="#222" text-anchor="start" textLength="49.3" lengthAdjust="spacingAndGlyphs" >22 Jul 20:00</text>
<text x="1347" y="928" font-family="Liberation Sans, sans-serif" font-size="9.6" font-weight="normal" fill="#222" text-anchor="start" textLength="49.3" lengthAdjust="spacingAndGlyphs" >25 Jul 08:00</text>
<text x="1411" y="928" font-family="Liberation Sans, sans-serif" font-size="9.6" font-weight="normal" fill="#222" text-anchor="start" textLength="49.3" lengthAdjust="spacingAndGlyphs" >29 Jul 22:00</text>
<text x="1475" y="928" font-family="Liberation Sans, sans-serif" font-size="9.6" font-weight="normal" fill="#222" text-anchor="start" textLength="50.0" lengthAdjust="spacingAndGlyphs" >1 Aug 12:00</text>
</svg></body></html>
